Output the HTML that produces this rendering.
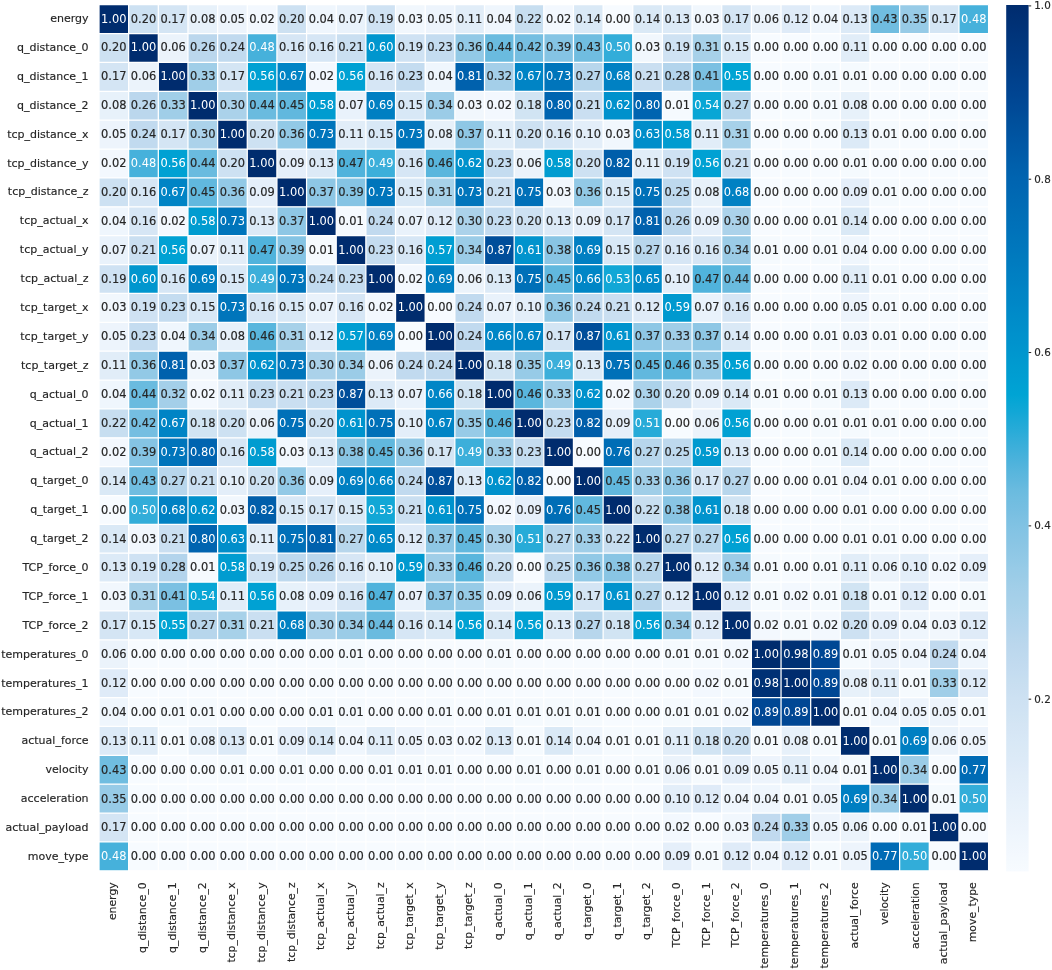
<!DOCTYPE html><html><head><meta charset="utf-8"><title>Correlation heatmap</title>
<style>html,body{margin:0;padding:0;background:#fff}svg{display:block}text{font-family:"DejaVu Sans","Liberation Sans",sans-serif}.a{font-size:11.9px;text-anchor:middle;fill:#262626;stroke:#262626;stroke-width:.18px}.w{fill:#fff;stroke:none}.y{font-size:11.0px;text-anchor:end;fill:#262626;stroke:#262626;stroke-width:.15px}.x{font-size:10.85px;text-anchor:end;fill:#262626;stroke:#262626;stroke-width:.15px}.c{font-size:11.0px;fill:#262626;stroke:#262626;stroke-width:.15px}</style></head><body>
<svg width="1052" height="970" viewBox="0 0 1052 970">
<rect width="1052" height="970" fill="#fff"/>
<g>
<rect x="99.00" y="4.65" width="29.65" height="28.87" fill="#002c6e"/>
<rect x="128.65" y="4.65" width="29.65" height="28.87" fill="#cde1f2"/>
<rect x="158.31" y="4.65" width="29.65" height="28.87" fill="#d4e5f4"/>
<rect x="187.96" y="4.65" width="29.65" height="28.87" fill="#e7f1fa"/>
<rect x="217.61" y="4.65" width="29.65" height="28.87" fill="#edf4fc"/>
<rect x="247.27" y="4.65" width="29.65" height="28.87" fill="#f3f8fe"/>
<rect x="276.92" y="4.65" width="29.65" height="28.87" fill="#cde1f2"/>
<rect x="306.57" y="4.65" width="29.65" height="28.87" fill="#eff6fd"/>
<rect x="336.23" y="4.65" width="29.65" height="28.87" fill="#e9f2fb"/>
<rect x="365.88" y="4.65" width="29.65" height="28.87" fill="#cfe2f3"/>
<rect x="395.53" y="4.65" width="29.65" height="28.87" fill="#f1f7fd"/>
<rect x="425.19" y="4.65" width="29.65" height="28.87" fill="#edf4fc"/>
<rect x="454.84" y="4.65" width="29.65" height="28.87" fill="#e1edf8"/>
<rect x="484.49" y="4.65" width="29.65" height="28.87" fill="#eff6fd"/>
<rect x="514.15" y="4.65" width="29.65" height="28.87" fill="#c7def0"/>
<rect x="543.80" y="4.65" width="29.65" height="28.87" fill="#f3f8fe"/>
<rect x="573.45" y="4.65" width="29.65" height="28.87" fill="#dae9f6"/>
<rect x="603.11" y="4.65" width="29.65" height="28.87" fill="#f7fbff"/>
<rect x="632.76" y="4.65" width="29.65" height="28.87" fill="#dae9f6"/>
<rect x="662.41" y="4.65" width="29.65" height="28.87" fill="#dceaf7"/>
<rect x="692.07" y="4.65" width="29.65" height="28.87" fill="#f1f7fd"/>
<rect x="721.72" y="4.65" width="29.65" height="28.87" fill="#d4e5f4"/>
<rect x="751.37" y="4.65" width="29.65" height="28.87" fill="#ebf3fb"/>
<rect x="781.03" y="4.65" width="29.65" height="28.87" fill="#dfebf8"/>
<rect x="810.68" y="4.65" width="29.65" height="28.87" fill="#eff6fd"/>
<rect x="840.33" y="4.65" width="29.65" height="28.87" fill="#dceaf7"/>
<rect x="869.99" y="4.65" width="29.65" height="28.87" fill="#70bde0"/>
<rect x="899.64" y="4.65" width="29.65" height="28.87" fill="#97cbe7"/>
<rect x="929.29" y="4.65" width="29.65" height="28.87" fill="#d4e5f4"/>
<rect x="958.95" y="4.65" width="29.65" height="28.87" fill="#46b1db"/>
<rect x="99.00" y="33.52" width="29.65" height="28.87" fill="#cde1f2"/>
<rect x="128.65" y="33.52" width="29.65" height="28.87" fill="#002c6e"/>
<rect x="158.31" y="33.52" width="29.65" height="28.87" fill="#ebf3fb"/>
<rect x="187.96" y="33.52" width="29.65" height="28.87" fill="#bbd7ed"/>
<rect x="217.61" y="33.52" width="29.65" height="28.87" fill="#c1daef"/>
<rect x="247.27" y="33.52" width="29.65" height="28.87" fill="#46b1db"/>
<rect x="276.92" y="33.52" width="29.65" height="28.87" fill="#d6e6f5"/>
<rect x="306.57" y="33.52" width="29.65" height="28.87" fill="#d6e6f5"/>
<rect x="336.23" y="33.52" width="29.65" height="28.87" fill="#cadff1"/>
<rect x="365.88" y="33.52" width="29.65" height="28.87" fill="#0096ce"/>
<rect x="395.53" y="33.52" width="29.65" height="28.87" fill="#cfe2f3"/>
<rect x="425.19" y="33.52" width="29.65" height="28.87" fill="#c4dcf0"/>
<rect x="454.84" y="33.52" width="29.65" height="28.87" fill="#92c9e6"/>
<rect x="484.49" y="33.52" width="29.65" height="28.87" fill="#6abbdf"/>
<rect x="514.15" y="33.52" width="29.65" height="28.87" fill="#75bee1"/>
<rect x="543.80" y="33.52" width="29.65" height="28.87" fill="#85c4e4"/>
<rect x="573.45" y="33.52" width="29.65" height="28.87" fill="#70bde0"/>
<rect x="603.11" y="33.52" width="29.65" height="28.87" fill="#32add9"/>
<rect x="632.76" y="33.52" width="29.65" height="28.87" fill="#f1f7fd"/>
<rect x="662.41" y="33.52" width="29.65" height="28.87" fill="#cfe2f3"/>
<rect x="692.07" y="33.52" width="29.65" height="28.87" fill="#a7d1e9"/>
<rect x="721.72" y="33.52" width="29.65" height="28.87" fill="#d8e8f6"/>
<rect x="751.37" y="33.52" width="29.65" height="28.87" fill="#f7fbff"/>
<rect x="781.03" y="33.52" width="29.65" height="28.87" fill="#f7fbff"/>
<rect x="810.68" y="33.52" width="29.65" height="28.87" fill="#f7fbff"/>
<rect x="840.33" y="33.52" width="29.65" height="28.87" fill="#e1edf8"/>
<rect x="869.99" y="33.52" width="29.65" height="28.87" fill="#f7fbff"/>
<rect x="899.64" y="33.52" width="29.65" height="28.87" fill="#f7fbff"/>
<rect x="929.29" y="33.52" width="29.65" height="28.87" fill="#f7fbff"/>
<rect x="958.95" y="33.52" width="29.65" height="28.87" fill="#f7fbff"/>
<rect x="99.00" y="62.40" width="29.65" height="28.87" fill="#d4e5f4"/>
<rect x="128.65" y="62.40" width="29.65" height="28.87" fill="#ebf3fb"/>
<rect x="158.31" y="62.40" width="29.65" height="28.87" fill="#002c6e"/>
<rect x="187.96" y="62.40" width="29.65" height="28.87" fill="#a0cee8"/>
<rect x="217.61" y="62.40" width="29.65" height="28.87" fill="#d4e5f4"/>
<rect x="247.27" y="62.40" width="29.65" height="28.87" fill="#00a1d3"/>
<rect x="276.92" y="62.40" width="29.65" height="28.87" fill="#0084c5"/>
<rect x="306.57" y="62.40" width="29.65" height="28.87" fill="#f3f8fe"/>
<rect x="336.23" y="62.40" width="29.65" height="28.87" fill="#00a1d3"/>
<rect x="365.88" y="62.40" width="29.65" height="28.87" fill="#d6e6f5"/>
<rect x="395.53" y="62.40" width="29.65" height="28.87" fill="#c4dcf0"/>
<rect x="425.19" y="62.40" width="29.65" height="28.87" fill="#eff6fd"/>
<rect x="454.84" y="62.40" width="29.65" height="28.87" fill="#0061ad"/>
<rect x="484.49" y="62.40" width="29.65" height="28.87" fill="#a4cfe9"/>
<rect x="514.15" y="62.40" width="29.65" height="28.87" fill="#0084c5"/>
<rect x="543.80" y="62.40" width="29.65" height="28.87" fill="#0075bb"/>
<rect x="573.45" y="62.40" width="29.65" height="28.87" fill="#b7d6ec"/>
<rect x="603.11" y="62.40" width="29.65" height="28.87" fill="#0081c3"/>
<rect x="632.76" y="62.40" width="29.65" height="28.87" fill="#cadff1"/>
<rect x="662.41" y="62.40" width="29.65" height="28.87" fill="#b3d4ec"/>
<rect x="692.07" y="62.40" width="29.65" height="28.87" fill="#7bc0e2"/>
<rect x="721.72" y="62.40" width="29.65" height="28.87" fill="#00a4d4"/>
<rect x="751.37" y="62.40" width="29.65" height="28.87" fill="#f7fbff"/>
<rect x="781.03" y="62.40" width="29.65" height="28.87" fill="#f7fbff"/>
<rect x="810.68" y="62.40" width="29.65" height="28.87" fill="#f5fafe"/>
<rect x="840.33" y="62.40" width="29.65" height="28.87" fill="#f5fafe"/>
<rect x="869.99" y="62.40" width="29.65" height="28.87" fill="#f7fbff"/>
<rect x="899.64" y="62.40" width="29.65" height="28.87" fill="#f7fbff"/>
<rect x="929.29" y="62.40" width="29.65" height="28.87" fill="#f7fbff"/>
<rect x="958.95" y="62.40" width="29.65" height="28.87" fill="#f7fbff"/>
<rect x="99.00" y="91.27" width="29.65" height="28.87" fill="#e7f1fa"/>
<rect x="128.65" y="91.27" width="29.65" height="28.87" fill="#bbd7ed"/>
<rect x="158.31" y="91.27" width="29.65" height="28.87" fill="#a0cee8"/>
<rect x="187.96" y="91.27" width="29.65" height="28.87" fill="#002c6e"/>
<rect x="217.61" y="91.27" width="29.65" height="28.87" fill="#abd2ea"/>
<rect x="247.27" y="91.27" width="29.65" height="28.87" fill="#6abbdf"/>
<rect x="276.92" y="91.27" width="29.65" height="28.87" fill="#61b8de"/>
<rect x="306.57" y="91.27" width="29.65" height="28.87" fill="#009cd0"/>
<rect x="336.23" y="91.27" width="29.65" height="28.87" fill="#e9f2fb"/>
<rect x="365.88" y="91.27" width="29.65" height="28.87" fill="#007fc2"/>
<rect x="395.53" y="91.27" width="29.65" height="28.87" fill="#d8e8f6"/>
<rect x="425.19" y="91.27" width="29.65" height="28.87" fill="#9bcce7"/>
<rect x="454.84" y="91.27" width="29.65" height="28.87" fill="#f1f7fd"/>
<rect x="484.49" y="91.27" width="29.65" height="28.87" fill="#f3f8fe"/>
<rect x="514.15" y="91.27" width="29.65" height="28.87" fill="#d1e4f3"/>
<rect x="543.80" y="91.27" width="29.65" height="28.87" fill="#0064b0"/>
<rect x="573.45" y="91.27" width="29.65" height="28.87" fill="#cadff1"/>
<rect x="603.11" y="91.27" width="29.65" height="28.87" fill="#0091cc"/>
<rect x="632.76" y="91.27" width="29.65" height="28.87" fill="#0064b0"/>
<rect x="662.41" y="91.27" width="29.65" height="28.87" fill="#f5fafe"/>
<rect x="692.07" y="91.27" width="29.65" height="28.87" fill="#09a6d5"/>
<rect x="721.72" y="91.27" width="29.65" height="28.87" fill="#b7d6ec"/>
<rect x="751.37" y="91.27" width="29.65" height="28.87" fill="#f7fbff"/>
<rect x="781.03" y="91.27" width="29.65" height="28.87" fill="#f7fbff"/>
<rect x="810.68" y="91.27" width="29.65" height="28.87" fill="#f5fafe"/>
<rect x="840.33" y="91.27" width="29.65" height="28.87" fill="#e7f1fa"/>
<rect x="869.99" y="91.27" width="29.65" height="28.87" fill="#f7fbff"/>
<rect x="899.64" y="91.27" width="29.65" height="28.87" fill="#f7fbff"/>
<rect x="929.29" y="91.27" width="29.65" height="28.87" fill="#f7fbff"/>
<rect x="958.95" y="91.27" width="29.65" height="28.87" fill="#f7fbff"/>
<rect x="99.00" y="120.14" width="29.65" height="28.87" fill="#edf4fc"/>
<rect x="128.65" y="120.14" width="29.65" height="28.87" fill="#c1daef"/>
<rect x="158.31" y="120.14" width="29.65" height="28.87" fill="#d4e5f4"/>
<rect x="187.96" y="120.14" width="29.65" height="28.87" fill="#abd2ea"/>
<rect x="217.61" y="120.14" width="29.65" height="28.87" fill="#002c6e"/>
<rect x="247.27" y="120.14" width="29.65" height="28.87" fill="#cde1f2"/>
<rect x="276.92" y="120.14" width="29.65" height="28.87" fill="#92c9e6"/>
<rect x="306.57" y="120.14" width="29.65" height="28.87" fill="#0075bb"/>
<rect x="336.23" y="120.14" width="29.65" height="28.87" fill="#e1edf8"/>
<rect x="365.88" y="120.14" width="29.65" height="28.87" fill="#d8e8f6"/>
<rect x="395.53" y="120.14" width="29.65" height="28.87" fill="#0075bb"/>
<rect x="425.19" y="120.14" width="29.65" height="28.87" fill="#e7f1fa"/>
<rect x="454.84" y="120.14" width="29.65" height="28.87" fill="#8ec7e5"/>
<rect x="484.49" y="120.14" width="29.65" height="28.87" fill="#e1edf8"/>
<rect x="514.15" y="120.14" width="29.65" height="28.87" fill="#cde1f2"/>
<rect x="543.80" y="120.14" width="29.65" height="28.87" fill="#d6e6f5"/>
<rect x="573.45" y="120.14" width="29.65" height="28.87" fill="#e3eef9"/>
<rect x="603.11" y="120.14" width="29.65" height="28.87" fill="#f1f7fd"/>
<rect x="632.76" y="120.14" width="29.65" height="28.87" fill="#008eca"/>
<rect x="662.41" y="120.14" width="29.65" height="28.87" fill="#009cd0"/>
<rect x="692.07" y="120.14" width="29.65" height="28.87" fill="#e1edf8"/>
<rect x="721.72" y="120.14" width="29.65" height="28.87" fill="#a7d1e9"/>
<rect x="751.37" y="120.14" width="29.65" height="28.87" fill="#f7fbff"/>
<rect x="781.03" y="120.14" width="29.65" height="28.87" fill="#f7fbff"/>
<rect x="810.68" y="120.14" width="29.65" height="28.87" fill="#f7fbff"/>
<rect x="840.33" y="120.14" width="29.65" height="28.87" fill="#dceaf7"/>
<rect x="869.99" y="120.14" width="29.65" height="28.87" fill="#f5fafe"/>
<rect x="899.64" y="120.14" width="29.65" height="28.87" fill="#f7fbff"/>
<rect x="929.29" y="120.14" width="29.65" height="28.87" fill="#f7fbff"/>
<rect x="958.95" y="120.14" width="29.65" height="28.87" fill="#f7fbff"/>
<rect x="99.00" y="149.02" width="29.65" height="28.87" fill="#f3f8fe"/>
<rect x="128.65" y="149.02" width="29.65" height="28.87" fill="#46b1db"/>
<rect x="158.31" y="149.02" width="29.65" height="28.87" fill="#00a1d3"/>
<rect x="187.96" y="149.02" width="29.65" height="28.87" fill="#6abbdf"/>
<rect x="217.61" y="149.02" width="29.65" height="28.87" fill="#cde1f2"/>
<rect x="247.27" y="149.02" width="29.65" height="28.87" fill="#002c6e"/>
<rect x="276.92" y="149.02" width="29.65" height="28.87" fill="#e5effa"/>
<rect x="306.57" y="149.02" width="29.65" height="28.87" fill="#dceaf7"/>
<rect x="336.23" y="149.02" width="29.65" height="28.87" fill="#50b3dc"/>
<rect x="365.88" y="149.02" width="29.65" height="28.87" fill="#3cafda"/>
<rect x="395.53" y="149.02" width="29.65" height="28.87" fill="#d6e6f5"/>
<rect x="425.19" y="149.02" width="29.65" height="28.87" fill="#59b6dd"/>
<rect x="454.84" y="149.02" width="29.65" height="28.87" fill="#0091cc"/>
<rect x="484.49" y="149.02" width="29.65" height="28.87" fill="#c4dcf0"/>
<rect x="514.15" y="149.02" width="29.65" height="28.87" fill="#ebf3fb"/>
<rect x="543.80" y="149.02" width="29.65" height="28.87" fill="#009cd0"/>
<rect x="573.45" y="149.02" width="29.65" height="28.87" fill="#cde1f2"/>
<rect x="603.11" y="149.02" width="29.65" height="28.87" fill="#005eaa"/>
<rect x="632.76" y="149.02" width="29.65" height="28.87" fill="#e1edf8"/>
<rect x="662.41" y="149.02" width="29.65" height="28.87" fill="#cfe2f3"/>
<rect x="692.07" y="149.02" width="29.65" height="28.87" fill="#00a1d3"/>
<rect x="721.72" y="149.02" width="29.65" height="28.87" fill="#cadff1"/>
<rect x="751.37" y="149.02" width="29.65" height="28.87" fill="#f7fbff"/>
<rect x="781.03" y="149.02" width="29.65" height="28.87" fill="#f7fbff"/>
<rect x="810.68" y="149.02" width="29.65" height="28.87" fill="#f7fbff"/>
<rect x="840.33" y="149.02" width="29.65" height="28.87" fill="#f5fafe"/>
<rect x="869.99" y="149.02" width="29.65" height="28.87" fill="#f7fbff"/>
<rect x="899.64" y="149.02" width="29.65" height="28.87" fill="#f7fbff"/>
<rect x="929.29" y="149.02" width="29.65" height="28.87" fill="#f7fbff"/>
<rect x="958.95" y="149.02" width="29.65" height="28.87" fill="#f7fbff"/>
<rect x="99.00" y="177.89" width="29.65" height="28.87" fill="#cde1f2"/>
<rect x="128.65" y="177.89" width="29.65" height="28.87" fill="#d6e6f5"/>
<rect x="158.31" y="177.89" width="29.65" height="28.87" fill="#0084c5"/>
<rect x="187.96" y="177.89" width="29.65" height="28.87" fill="#61b8de"/>
<rect x="217.61" y="177.89" width="29.65" height="28.87" fill="#92c9e6"/>
<rect x="247.27" y="177.89" width="29.65" height="28.87" fill="#e5effa"/>
<rect x="276.92" y="177.89" width="29.65" height="28.87" fill="#002c6e"/>
<rect x="306.57" y="177.89" width="29.65" height="28.87" fill="#8ec7e5"/>
<rect x="336.23" y="177.89" width="29.65" height="28.87" fill="#85c4e4"/>
<rect x="365.88" y="177.89" width="29.65" height="28.87" fill="#0075bb"/>
<rect x="395.53" y="177.89" width="29.65" height="28.87" fill="#d8e8f6"/>
<rect x="425.19" y="177.89" width="29.65" height="28.87" fill="#a7d1e9"/>
<rect x="454.84" y="177.89" width="29.65" height="28.87" fill="#0075bb"/>
<rect x="484.49" y="177.89" width="29.65" height="28.87" fill="#cadff1"/>
<rect x="514.15" y="177.89" width="29.65" height="28.87" fill="#0070b8"/>
<rect x="543.80" y="177.89" width="29.65" height="28.87" fill="#f1f7fd"/>
<rect x="573.45" y="177.89" width="29.65" height="28.87" fill="#92c9e6"/>
<rect x="603.11" y="177.89" width="29.65" height="28.87" fill="#d8e8f6"/>
<rect x="632.76" y="177.89" width="29.65" height="28.87" fill="#0070b8"/>
<rect x="662.41" y="177.89" width="29.65" height="28.87" fill="#bed9ee"/>
<rect x="692.07" y="177.89" width="29.65" height="28.87" fill="#e7f1fa"/>
<rect x="721.72" y="177.89" width="29.65" height="28.87" fill="#0081c3"/>
<rect x="751.37" y="177.89" width="29.65" height="28.87" fill="#f7fbff"/>
<rect x="781.03" y="177.89" width="29.65" height="28.87" fill="#f7fbff"/>
<rect x="810.68" y="177.89" width="29.65" height="28.87" fill="#f7fbff"/>
<rect x="840.33" y="177.89" width="29.65" height="28.87" fill="#e5effa"/>
<rect x="869.99" y="177.89" width="29.65" height="28.87" fill="#f5fafe"/>
<rect x="899.64" y="177.89" width="29.65" height="28.87" fill="#f7fbff"/>
<rect x="929.29" y="177.89" width="29.65" height="28.87" fill="#f7fbff"/>
<rect x="958.95" y="177.89" width="29.65" height="28.87" fill="#f7fbff"/>
<rect x="99.00" y="206.76" width="29.65" height="28.87" fill="#eff6fd"/>
<rect x="128.65" y="206.76" width="29.65" height="28.87" fill="#d6e6f5"/>
<rect x="158.31" y="206.76" width="29.65" height="28.87" fill="#f3f8fe"/>
<rect x="187.96" y="206.76" width="29.65" height="28.87" fill="#009cd0"/>
<rect x="217.61" y="206.76" width="29.65" height="28.87" fill="#0075bb"/>
<rect x="247.27" y="206.76" width="29.65" height="28.87" fill="#dceaf7"/>
<rect x="276.92" y="206.76" width="29.65" height="28.87" fill="#8ec7e5"/>
<rect x="306.57" y="206.76" width="29.65" height="28.87" fill="#002c6e"/>
<rect x="336.23" y="206.76" width="29.65" height="28.87" fill="#f5fafe"/>
<rect x="365.88" y="206.76" width="29.65" height="28.87" fill="#c1daef"/>
<rect x="395.53" y="206.76" width="29.65" height="28.87" fill="#e9f2fb"/>
<rect x="425.19" y="206.76" width="29.65" height="28.87" fill="#dfebf8"/>
<rect x="454.84" y="206.76" width="29.65" height="28.87" fill="#abd2ea"/>
<rect x="484.49" y="206.76" width="29.65" height="28.87" fill="#c4dcf0"/>
<rect x="514.15" y="206.76" width="29.65" height="28.87" fill="#cde1f2"/>
<rect x="543.80" y="206.76" width="29.65" height="28.87" fill="#dceaf7"/>
<rect x="573.45" y="206.76" width="29.65" height="28.87" fill="#e5effa"/>
<rect x="603.11" y="206.76" width="29.65" height="28.87" fill="#d4e5f4"/>
<rect x="632.76" y="206.76" width="29.65" height="28.87" fill="#0061ad"/>
<rect x="662.41" y="206.76" width="29.65" height="28.87" fill="#bbd7ed"/>
<rect x="692.07" y="206.76" width="29.65" height="28.87" fill="#e5effa"/>
<rect x="721.72" y="206.76" width="29.65" height="28.87" fill="#abd2ea"/>
<rect x="751.37" y="206.76" width="29.65" height="28.87" fill="#f7fbff"/>
<rect x="781.03" y="206.76" width="29.65" height="28.87" fill="#f7fbff"/>
<rect x="810.68" y="206.76" width="29.65" height="28.87" fill="#f5fafe"/>
<rect x="840.33" y="206.76" width="29.65" height="28.87" fill="#dae9f6"/>
<rect x="869.99" y="206.76" width="29.65" height="28.87" fill="#f7fbff"/>
<rect x="899.64" y="206.76" width="29.65" height="28.87" fill="#f7fbff"/>
<rect x="929.29" y="206.76" width="29.65" height="28.87" fill="#f7fbff"/>
<rect x="958.95" y="206.76" width="29.65" height="28.87" fill="#f7fbff"/>
<rect x="99.00" y="235.64" width="29.65" height="28.87" fill="#e9f2fb"/>
<rect x="128.65" y="235.64" width="29.65" height="28.87" fill="#cadff1"/>
<rect x="158.31" y="235.64" width="29.65" height="28.87" fill="#00a1d3"/>
<rect x="187.96" y="235.64" width="29.65" height="28.87" fill="#e9f2fb"/>
<rect x="217.61" y="235.64" width="29.65" height="28.87" fill="#e1edf8"/>
<rect x="247.27" y="235.64" width="29.65" height="28.87" fill="#50b3dc"/>
<rect x="276.92" y="235.64" width="29.65" height="28.87" fill="#85c4e4"/>
<rect x="306.57" y="235.64" width="29.65" height="28.87" fill="#f5fafe"/>
<rect x="336.23" y="235.64" width="29.65" height="28.87" fill="#002c6e"/>
<rect x="365.88" y="235.64" width="29.65" height="28.87" fill="#c4dcf0"/>
<rect x="395.53" y="235.64" width="29.65" height="28.87" fill="#d6e6f5"/>
<rect x="425.19" y="235.64" width="29.65" height="28.87" fill="#009ed2"/>
<rect x="454.84" y="235.64" width="29.65" height="28.87" fill="#9bcce7"/>
<rect x="484.49" y="235.64" width="29.65" height="28.87" fill="#004e9a"/>
<rect x="514.15" y="235.64" width="29.65" height="28.87" fill="#0093cd"/>
<rect x="543.80" y="235.64" width="29.65" height="28.87" fill="#89c5e4"/>
<rect x="573.45" y="235.64" width="29.65" height="28.87" fill="#007fc2"/>
<rect x="603.11" y="235.64" width="29.65" height="28.87" fill="#d8e8f6"/>
<rect x="632.76" y="235.64" width="29.65" height="28.87" fill="#b7d6ec"/>
<rect x="662.41" y="235.64" width="29.65" height="28.87" fill="#d6e6f5"/>
<rect x="692.07" y="235.64" width="29.65" height="28.87" fill="#d6e6f5"/>
<rect x="721.72" y="235.64" width="29.65" height="28.87" fill="#9bcce7"/>
<rect x="751.37" y="235.64" width="29.65" height="28.87" fill="#f5fafe"/>
<rect x="781.03" y="235.64" width="29.65" height="28.87" fill="#f7fbff"/>
<rect x="810.68" y="235.64" width="29.65" height="28.87" fill="#f5fafe"/>
<rect x="840.33" y="235.64" width="29.65" height="28.87" fill="#eff6fd"/>
<rect x="869.99" y="235.64" width="29.65" height="28.87" fill="#f7fbff"/>
<rect x="899.64" y="235.64" width="29.65" height="28.87" fill="#f7fbff"/>
<rect x="929.29" y="235.64" width="29.65" height="28.87" fill="#f7fbff"/>
<rect x="958.95" y="235.64" width="29.65" height="28.87" fill="#f7fbff"/>
<rect x="99.00" y="264.51" width="29.65" height="28.87" fill="#cfe2f3"/>
<rect x="128.65" y="264.51" width="29.65" height="28.87" fill="#0096ce"/>
<rect x="158.31" y="264.51" width="29.65" height="28.87" fill="#d6e6f5"/>
<rect x="187.96" y="264.51" width="29.65" height="28.87" fill="#007fc2"/>
<rect x="217.61" y="264.51" width="29.65" height="28.87" fill="#d8e8f6"/>
<rect x="247.27" y="264.51" width="29.65" height="28.87" fill="#3cafda"/>
<rect x="276.92" y="264.51" width="29.65" height="28.87" fill="#0075bb"/>
<rect x="306.57" y="264.51" width="29.65" height="28.87" fill="#c1daef"/>
<rect x="336.23" y="264.51" width="29.65" height="28.87" fill="#c4dcf0"/>
<rect x="365.88" y="264.51" width="29.65" height="28.87" fill="#002c6e"/>
<rect x="395.53" y="264.51" width="29.65" height="28.87" fill="#f3f8fe"/>
<rect x="425.19" y="264.51" width="29.65" height="28.87" fill="#007fc2"/>
<rect x="454.84" y="264.51" width="29.65" height="28.87" fill="#ebf3fb"/>
<rect x="484.49" y="264.51" width="29.65" height="28.87" fill="#dceaf7"/>
<rect x="514.15" y="264.51" width="29.65" height="28.87" fill="#0070b8"/>
<rect x="543.80" y="264.51" width="29.65" height="28.87" fill="#61b8de"/>
<rect x="573.45" y="264.51" width="29.65" height="28.87" fill="#0086c6"/>
<rect x="603.11" y="264.51" width="29.65" height="28.87" fill="#12a7d6"/>
<rect x="632.76" y="264.51" width="29.65" height="28.87" fill="#0089c8"/>
<rect x="662.41" y="264.51" width="29.65" height="28.87" fill="#e3eef9"/>
<rect x="692.07" y="264.51" width="29.65" height="28.87" fill="#50b3dc"/>
<rect x="721.72" y="264.51" width="29.65" height="28.87" fill="#6abbdf"/>
<rect x="751.37" y="264.51" width="29.65" height="28.87" fill="#f7fbff"/>
<rect x="781.03" y="264.51" width="29.65" height="28.87" fill="#f7fbff"/>
<rect x="810.68" y="264.51" width="29.65" height="28.87" fill="#f7fbff"/>
<rect x="840.33" y="264.51" width="29.65" height="28.87" fill="#e1edf8"/>
<rect x="869.99" y="264.51" width="29.65" height="28.87" fill="#f5fafe"/>
<rect x="899.64" y="264.51" width="29.65" height="28.87" fill="#f7fbff"/>
<rect x="929.29" y="264.51" width="29.65" height="28.87" fill="#f7fbff"/>
<rect x="958.95" y="264.51" width="29.65" height="28.87" fill="#f7fbff"/>
<rect x="99.00" y="293.38" width="29.65" height="28.87" fill="#f1f7fd"/>
<rect x="128.65" y="293.38" width="29.65" height="28.87" fill="#cfe2f3"/>
<rect x="158.31" y="293.38" width="29.65" height="28.87" fill="#c4dcf0"/>
<rect x="187.96" y="293.38" width="29.65" height="28.87" fill="#d8e8f6"/>
<rect x="217.61" y="293.38" width="29.65" height="28.87" fill="#0075bb"/>
<rect x="247.27" y="293.38" width="29.65" height="28.87" fill="#d6e6f5"/>
<rect x="276.92" y="293.38" width="29.65" height="28.87" fill="#d8e8f6"/>
<rect x="306.57" y="293.38" width="29.65" height="28.87" fill="#e9f2fb"/>
<rect x="336.23" y="293.38" width="29.65" height="28.87" fill="#d6e6f5"/>
<rect x="365.88" y="293.38" width="29.65" height="28.87" fill="#f3f8fe"/>
<rect x="395.53" y="293.38" width="29.65" height="28.87" fill="#002c6e"/>
<rect x="425.19" y="293.38" width="29.65" height="28.87" fill="#f7fbff"/>
<rect x="454.84" y="293.38" width="29.65" height="28.87" fill="#c1daef"/>
<rect x="484.49" y="293.38" width="29.65" height="28.87" fill="#e9f2fb"/>
<rect x="514.15" y="293.38" width="29.65" height="28.87" fill="#e3eef9"/>
<rect x="543.80" y="293.38" width="29.65" height="28.87" fill="#92c9e6"/>
<rect x="573.45" y="293.38" width="29.65" height="28.87" fill="#c1daef"/>
<rect x="603.11" y="293.38" width="29.65" height="28.87" fill="#cadff1"/>
<rect x="632.76" y="293.38" width="29.65" height="28.87" fill="#dfebf8"/>
<rect x="662.41" y="293.38" width="29.65" height="28.87" fill="#0099cf"/>
<rect x="692.07" y="293.38" width="29.65" height="28.87" fill="#e9f2fb"/>
<rect x="721.72" y="293.38" width="29.65" height="28.87" fill="#d6e6f5"/>
<rect x="751.37" y="293.38" width="29.65" height="28.87" fill="#f7fbff"/>
<rect x="781.03" y="293.38" width="29.65" height="28.87" fill="#f7fbff"/>
<rect x="810.68" y="293.38" width="29.65" height="28.87" fill="#f7fbff"/>
<rect x="840.33" y="293.38" width="29.65" height="28.87" fill="#edf4fc"/>
<rect x="869.99" y="293.38" width="29.65" height="28.87" fill="#f5fafe"/>
<rect x="899.64" y="293.38" width="29.65" height="28.87" fill="#f7fbff"/>
<rect x="929.29" y="293.38" width="29.65" height="28.87" fill="#f7fbff"/>
<rect x="958.95" y="293.38" width="29.65" height="28.87" fill="#f7fbff"/>
<rect x="99.00" y="322.26" width="29.65" height="28.87" fill="#edf4fc"/>
<rect x="128.65" y="322.26" width="29.65" height="28.87" fill="#c4dcf0"/>
<rect x="158.31" y="322.26" width="29.65" height="28.87" fill="#eff6fd"/>
<rect x="187.96" y="322.26" width="29.65" height="28.87" fill="#9bcce7"/>
<rect x="217.61" y="322.26" width="29.65" height="28.87" fill="#e7f1fa"/>
<rect x="247.27" y="322.26" width="29.65" height="28.87" fill="#59b6dd"/>
<rect x="276.92" y="322.26" width="29.65" height="28.87" fill="#a7d1e9"/>
<rect x="306.57" y="322.26" width="29.65" height="28.87" fill="#dfebf8"/>
<rect x="336.23" y="322.26" width="29.65" height="28.87" fill="#009ed2"/>
<rect x="365.88" y="322.26" width="29.65" height="28.87" fill="#007fc2"/>
<rect x="395.53" y="322.26" width="29.65" height="28.87" fill="#f7fbff"/>
<rect x="425.19" y="322.26" width="29.65" height="28.87" fill="#002c6e"/>
<rect x="454.84" y="322.26" width="29.65" height="28.87" fill="#c1daef"/>
<rect x="484.49" y="322.26" width="29.65" height="28.87" fill="#0086c6"/>
<rect x="514.15" y="322.26" width="29.65" height="28.87" fill="#0084c5"/>
<rect x="543.80" y="322.26" width="29.65" height="28.87" fill="#d4e5f4"/>
<rect x="573.45" y="322.26" width="29.65" height="28.87" fill="#004e9a"/>
<rect x="603.11" y="322.26" width="29.65" height="28.87" fill="#0093cd"/>
<rect x="632.76" y="322.26" width="29.65" height="28.87" fill="#8ec7e5"/>
<rect x="662.41" y="322.26" width="29.65" height="28.87" fill="#a0cee8"/>
<rect x="692.07" y="322.26" width="29.65" height="28.87" fill="#8ec7e5"/>
<rect x="721.72" y="322.26" width="29.65" height="28.87" fill="#dae9f6"/>
<rect x="751.37" y="322.26" width="29.65" height="28.87" fill="#f7fbff"/>
<rect x="781.03" y="322.26" width="29.65" height="28.87" fill="#f7fbff"/>
<rect x="810.68" y="322.26" width="29.65" height="28.87" fill="#f5fafe"/>
<rect x="840.33" y="322.26" width="29.65" height="28.87" fill="#f1f7fd"/>
<rect x="869.99" y="322.26" width="29.65" height="28.87" fill="#f5fafe"/>
<rect x="899.64" y="322.26" width="29.65" height="28.87" fill="#f7fbff"/>
<rect x="929.29" y="322.26" width="29.65" height="28.87" fill="#f7fbff"/>
<rect x="958.95" y="322.26" width="29.65" height="28.87" fill="#f7fbff"/>
<rect x="99.00" y="351.13" width="29.65" height="28.87" fill="#e1edf8"/>
<rect x="128.65" y="351.13" width="29.65" height="28.87" fill="#92c9e6"/>
<rect x="158.31" y="351.13" width="29.65" height="28.87" fill="#0061ad"/>
<rect x="187.96" y="351.13" width="29.65" height="28.87" fill="#f1f7fd"/>
<rect x="217.61" y="351.13" width="29.65" height="28.87" fill="#8ec7e5"/>
<rect x="247.27" y="351.13" width="29.65" height="28.87" fill="#0091cc"/>
<rect x="276.92" y="351.13" width="29.65" height="28.87" fill="#0075bb"/>
<rect x="306.57" y="351.13" width="29.65" height="28.87" fill="#abd2ea"/>
<rect x="336.23" y="351.13" width="29.65" height="28.87" fill="#9bcce7"/>
<rect x="365.88" y="351.13" width="29.65" height="28.87" fill="#ebf3fb"/>
<rect x="395.53" y="351.13" width="29.65" height="28.87" fill="#c1daef"/>
<rect x="425.19" y="351.13" width="29.65" height="28.87" fill="#c1daef"/>
<rect x="454.84" y="351.13" width="29.65" height="28.87" fill="#002c6e"/>
<rect x="484.49" y="351.13" width="29.65" height="28.87" fill="#d1e4f3"/>
<rect x="514.15" y="351.13" width="29.65" height="28.87" fill="#97cbe7"/>
<rect x="543.80" y="351.13" width="29.65" height="28.87" fill="#3cafda"/>
<rect x="573.45" y="351.13" width="29.65" height="28.87" fill="#dceaf7"/>
<rect x="603.11" y="351.13" width="29.65" height="28.87" fill="#0070b8"/>
<rect x="632.76" y="351.13" width="29.65" height="28.87" fill="#61b8de"/>
<rect x="662.41" y="351.13" width="29.65" height="28.87" fill="#59b6dd"/>
<rect x="692.07" y="351.13" width="29.65" height="28.87" fill="#97cbe7"/>
<rect x="721.72" y="351.13" width="29.65" height="28.87" fill="#00a1d3"/>
<rect x="751.37" y="351.13" width="29.65" height="28.87" fill="#f7fbff"/>
<rect x="781.03" y="351.13" width="29.65" height="28.87" fill="#f7fbff"/>
<rect x="810.68" y="351.13" width="29.65" height="28.87" fill="#f7fbff"/>
<rect x="840.33" y="351.13" width="29.65" height="28.87" fill="#f3f8fe"/>
<rect x="869.99" y="351.13" width="29.65" height="28.87" fill="#f7fbff"/>
<rect x="899.64" y="351.13" width="29.65" height="28.87" fill="#f7fbff"/>
<rect x="929.29" y="351.13" width="29.65" height="28.87" fill="#f7fbff"/>
<rect x="958.95" y="351.13" width="29.65" height="28.87" fill="#f7fbff"/>
<rect x="99.00" y="380.00" width="29.65" height="28.87" fill="#eff6fd"/>
<rect x="128.65" y="380.00" width="29.65" height="28.87" fill="#6abbdf"/>
<rect x="158.31" y="380.00" width="29.65" height="28.87" fill="#a4cfe9"/>
<rect x="187.96" y="380.00" width="29.65" height="28.87" fill="#f3f8fe"/>
<rect x="217.61" y="380.00" width="29.65" height="28.87" fill="#e1edf8"/>
<rect x="247.27" y="380.00" width="29.65" height="28.87" fill="#c4dcf0"/>
<rect x="276.92" y="380.00" width="29.65" height="28.87" fill="#cadff1"/>
<rect x="306.57" y="380.00" width="29.65" height="28.87" fill="#c4dcf0"/>
<rect x="336.23" y="380.00" width="29.65" height="28.87" fill="#004e9a"/>
<rect x="365.88" y="380.00" width="29.65" height="28.87" fill="#dceaf7"/>
<rect x="395.53" y="380.00" width="29.65" height="28.87" fill="#e9f2fb"/>
<rect x="425.19" y="380.00" width="29.65" height="28.87" fill="#0086c6"/>
<rect x="454.84" y="380.00" width="29.65" height="28.87" fill="#d1e4f3"/>
<rect x="484.49" y="380.00" width="29.65" height="28.87" fill="#002c6e"/>
<rect x="514.15" y="380.00" width="29.65" height="28.87" fill="#59b6dd"/>
<rect x="543.80" y="380.00" width="29.65" height="28.87" fill="#a0cee8"/>
<rect x="573.45" y="380.00" width="29.65" height="28.87" fill="#0091cc"/>
<rect x="603.11" y="380.00" width="29.65" height="28.87" fill="#f3f8fe"/>
<rect x="632.76" y="380.00" width="29.65" height="28.87" fill="#abd2ea"/>
<rect x="662.41" y="380.00" width="29.65" height="28.87" fill="#cde1f2"/>
<rect x="692.07" y="380.00" width="29.65" height="28.87" fill="#e5effa"/>
<rect x="721.72" y="380.00" width="29.65" height="28.87" fill="#dae9f6"/>
<rect x="751.37" y="380.00" width="29.65" height="28.87" fill="#f5fafe"/>
<rect x="781.03" y="380.00" width="29.65" height="28.87" fill="#f7fbff"/>
<rect x="810.68" y="380.00" width="29.65" height="28.87" fill="#f5fafe"/>
<rect x="840.33" y="380.00" width="29.65" height="28.87" fill="#dceaf7"/>
<rect x="869.99" y="380.00" width="29.65" height="28.87" fill="#f7fbff"/>
<rect x="899.64" y="380.00" width="29.65" height="28.87" fill="#f7fbff"/>
<rect x="929.29" y="380.00" width="29.65" height="28.87" fill="#f7fbff"/>
<rect x="958.95" y="380.00" width="29.65" height="28.87" fill="#f7fbff"/>
<rect x="99.00" y="408.88" width="29.65" height="28.87" fill="#c7def0"/>
<rect x="128.65" y="408.88" width="29.65" height="28.87" fill="#75bee1"/>
<rect x="158.31" y="408.88" width="29.65" height="28.87" fill="#0084c5"/>
<rect x="187.96" y="408.88" width="29.65" height="28.87" fill="#d1e4f3"/>
<rect x="217.61" y="408.88" width="29.65" height="28.87" fill="#cde1f2"/>
<rect x="247.27" y="408.88" width="29.65" height="28.87" fill="#ebf3fb"/>
<rect x="276.92" y="408.88" width="29.65" height="28.87" fill="#0070b8"/>
<rect x="306.57" y="408.88" width="29.65" height="28.87" fill="#cde1f2"/>
<rect x="336.23" y="408.88" width="29.65" height="28.87" fill="#0093cd"/>
<rect x="365.88" y="408.88" width="29.65" height="28.87" fill="#0070b8"/>
<rect x="395.53" y="408.88" width="29.65" height="28.87" fill="#e3eef9"/>
<rect x="425.19" y="408.88" width="29.65" height="28.87" fill="#0084c5"/>
<rect x="454.84" y="408.88" width="29.65" height="28.87" fill="#97cbe7"/>
<rect x="484.49" y="408.88" width="29.65" height="28.87" fill="#59b6dd"/>
<rect x="514.15" y="408.88" width="29.65" height="28.87" fill="#002c6e"/>
<rect x="543.80" y="408.88" width="29.65" height="28.87" fill="#c4dcf0"/>
<rect x="573.45" y="408.88" width="29.65" height="28.87" fill="#005eaa"/>
<rect x="603.11" y="408.88" width="29.65" height="28.87" fill="#e5effa"/>
<rect x="632.76" y="408.88" width="29.65" height="28.87" fill="#27abd8"/>
<rect x="662.41" y="408.88" width="29.65" height="28.87" fill="#f7fbff"/>
<rect x="692.07" y="408.88" width="29.65" height="28.87" fill="#ebf3fb"/>
<rect x="721.72" y="408.88" width="29.65" height="28.87" fill="#00a1d3"/>
<rect x="751.37" y="408.88" width="29.65" height="28.87" fill="#f7fbff"/>
<rect x="781.03" y="408.88" width="29.65" height="28.87" fill="#f7fbff"/>
<rect x="810.68" y="408.88" width="29.65" height="28.87" fill="#f5fafe"/>
<rect x="840.33" y="408.88" width="29.65" height="28.87" fill="#f5fafe"/>
<rect x="869.99" y="408.88" width="29.65" height="28.87" fill="#f5fafe"/>
<rect x="899.64" y="408.88" width="29.65" height="28.87" fill="#f7fbff"/>
<rect x="929.29" y="408.88" width="29.65" height="28.87" fill="#f7fbff"/>
<rect x="958.95" y="408.88" width="29.65" height="28.87" fill="#f7fbff"/>
<rect x="99.00" y="437.75" width="29.65" height="28.87" fill="#f3f8fe"/>
<rect x="128.65" y="437.75" width="29.65" height="28.87" fill="#85c4e4"/>
<rect x="158.31" y="437.75" width="29.65" height="28.87" fill="#0075bb"/>
<rect x="187.96" y="437.75" width="29.65" height="28.87" fill="#0064b0"/>
<rect x="217.61" y="437.75" width="29.65" height="28.87" fill="#d6e6f5"/>
<rect x="247.27" y="437.75" width="29.65" height="28.87" fill="#009cd0"/>
<rect x="276.92" y="437.75" width="29.65" height="28.87" fill="#f1f7fd"/>
<rect x="306.57" y="437.75" width="29.65" height="28.87" fill="#dceaf7"/>
<rect x="336.23" y="437.75" width="29.65" height="28.87" fill="#89c5e4"/>
<rect x="365.88" y="437.75" width="29.65" height="28.87" fill="#61b8de"/>
<rect x="395.53" y="437.75" width="29.65" height="28.87" fill="#92c9e6"/>
<rect x="425.19" y="437.75" width="29.65" height="28.87" fill="#d4e5f4"/>
<rect x="454.84" y="437.75" width="29.65" height="28.87" fill="#3cafda"/>
<rect x="484.49" y="437.75" width="29.65" height="28.87" fill="#a0cee8"/>
<rect x="514.15" y="437.75" width="29.65" height="28.87" fill="#c4dcf0"/>
<rect x="543.80" y="437.75" width="29.65" height="28.87" fill="#002c6e"/>
<rect x="573.45" y="437.75" width="29.65" height="28.87" fill="#f7fbff"/>
<rect x="603.11" y="437.75" width="29.65" height="28.87" fill="#006eb6"/>
<rect x="632.76" y="437.75" width="29.65" height="28.87" fill="#b7d6ec"/>
<rect x="662.41" y="437.75" width="29.65" height="28.87" fill="#bed9ee"/>
<rect x="692.07" y="437.75" width="29.65" height="28.87" fill="#0099cf"/>
<rect x="721.72" y="437.75" width="29.65" height="28.87" fill="#dceaf7"/>
<rect x="751.37" y="437.75" width="29.65" height="28.87" fill="#f7fbff"/>
<rect x="781.03" y="437.75" width="29.65" height="28.87" fill="#f7fbff"/>
<rect x="810.68" y="437.75" width="29.65" height="28.87" fill="#f5fafe"/>
<rect x="840.33" y="437.75" width="29.65" height="28.87" fill="#dae9f6"/>
<rect x="869.99" y="437.75" width="29.65" height="28.87" fill="#f7fbff"/>
<rect x="899.64" y="437.75" width="29.65" height="28.87" fill="#f7fbff"/>
<rect x="929.29" y="437.75" width="29.65" height="28.87" fill="#f7fbff"/>
<rect x="958.95" y="437.75" width="29.65" height="28.87" fill="#f7fbff"/>
<rect x="99.00" y="466.62" width="29.65" height="28.87" fill="#dae9f6"/>
<rect x="128.65" y="466.62" width="29.65" height="28.87" fill="#70bde0"/>
<rect x="158.31" y="466.62" width="29.65" height="28.87" fill="#b7d6ec"/>
<rect x="187.96" y="466.62" width="29.65" height="28.87" fill="#cadff1"/>
<rect x="217.61" y="466.62" width="29.65" height="28.87" fill="#e3eef9"/>
<rect x="247.27" y="466.62" width="29.65" height="28.87" fill="#cde1f2"/>
<rect x="276.92" y="466.62" width="29.65" height="28.87" fill="#92c9e6"/>
<rect x="306.57" y="466.62" width="29.65" height="28.87" fill="#e5effa"/>
<rect x="336.23" y="466.62" width="29.65" height="28.87" fill="#007fc2"/>
<rect x="365.88" y="466.62" width="29.65" height="28.87" fill="#0086c6"/>
<rect x="395.53" y="466.62" width="29.65" height="28.87" fill="#c1daef"/>
<rect x="425.19" y="466.62" width="29.65" height="28.87" fill="#004e9a"/>
<rect x="454.84" y="466.62" width="29.65" height="28.87" fill="#dceaf7"/>
<rect x="484.49" y="466.62" width="29.65" height="28.87" fill="#0091cc"/>
<rect x="514.15" y="466.62" width="29.65" height="28.87" fill="#005eaa"/>
<rect x="543.80" y="466.62" width="29.65" height="28.87" fill="#f7fbff"/>
<rect x="573.45" y="466.62" width="29.65" height="28.87" fill="#002c6e"/>
<rect x="603.11" y="466.62" width="29.65" height="28.87" fill="#61b8de"/>
<rect x="632.76" y="466.62" width="29.65" height="28.87" fill="#a0cee8"/>
<rect x="662.41" y="466.62" width="29.65" height="28.87" fill="#92c9e6"/>
<rect x="692.07" y="466.62" width="29.65" height="28.87" fill="#d4e5f4"/>
<rect x="721.72" y="466.62" width="29.65" height="28.87" fill="#b7d6ec"/>
<rect x="751.37" y="466.62" width="29.65" height="28.87" fill="#f7fbff"/>
<rect x="781.03" y="466.62" width="29.65" height="28.87" fill="#f7fbff"/>
<rect x="810.68" y="466.62" width="29.65" height="28.87" fill="#f5fafe"/>
<rect x="840.33" y="466.62" width="29.65" height="28.87" fill="#eff6fd"/>
<rect x="869.99" y="466.62" width="29.65" height="28.87" fill="#f5fafe"/>
<rect x="899.64" y="466.62" width="29.65" height="28.87" fill="#f7fbff"/>
<rect x="929.29" y="466.62" width="29.65" height="28.87" fill="#f7fbff"/>
<rect x="958.95" y="466.62" width="29.65" height="28.87" fill="#f7fbff"/>
<rect x="99.00" y="495.50" width="29.65" height="28.87" fill="#f7fbff"/>
<rect x="128.65" y="495.50" width="29.65" height="28.87" fill="#32add9"/>
<rect x="158.31" y="495.50" width="29.65" height="28.87" fill="#0081c3"/>
<rect x="187.96" y="495.50" width="29.65" height="28.87" fill="#0091cc"/>
<rect x="217.61" y="495.50" width="29.65" height="28.87" fill="#f1f7fd"/>
<rect x="247.27" y="495.50" width="29.65" height="28.87" fill="#005eaa"/>
<rect x="276.92" y="495.50" width="29.65" height="28.87" fill="#d8e8f6"/>
<rect x="306.57" y="495.50" width="29.65" height="28.87" fill="#d4e5f4"/>
<rect x="336.23" y="495.50" width="29.65" height="28.87" fill="#d8e8f6"/>
<rect x="365.88" y="495.50" width="29.65" height="28.87" fill="#12a7d6"/>
<rect x="395.53" y="495.50" width="29.65" height="28.87" fill="#cadff1"/>
<rect x="425.19" y="495.50" width="29.65" height="28.87" fill="#0093cd"/>
<rect x="454.84" y="495.50" width="29.65" height="28.87" fill="#0070b8"/>
<rect x="484.49" y="495.50" width="29.65" height="28.87" fill="#f3f8fe"/>
<rect x="514.15" y="495.50" width="29.65" height="28.87" fill="#e5effa"/>
<rect x="543.80" y="495.50" width="29.65" height="28.87" fill="#006eb6"/>
<rect x="573.45" y="495.50" width="29.65" height="28.87" fill="#61b8de"/>
<rect x="603.11" y="495.50" width="29.65" height="28.87" fill="#002c6e"/>
<rect x="632.76" y="495.50" width="29.65" height="28.87" fill="#c7def0"/>
<rect x="662.41" y="495.50" width="29.65" height="28.87" fill="#89c5e4"/>
<rect x="692.07" y="495.50" width="29.65" height="28.87" fill="#0093cd"/>
<rect x="721.72" y="495.50" width="29.65" height="28.87" fill="#d1e4f3"/>
<rect x="751.37" y="495.50" width="29.65" height="28.87" fill="#f7fbff"/>
<rect x="781.03" y="495.50" width="29.65" height="28.87" fill="#f7fbff"/>
<rect x="810.68" y="495.50" width="29.65" height="28.87" fill="#f7fbff"/>
<rect x="840.33" y="495.50" width="29.65" height="28.87" fill="#f5fafe"/>
<rect x="869.99" y="495.50" width="29.65" height="28.87" fill="#f7fbff"/>
<rect x="899.64" y="495.50" width="29.65" height="28.87" fill="#f7fbff"/>
<rect x="929.29" y="495.50" width="29.65" height="28.87" fill="#f7fbff"/>
<rect x="958.95" y="495.50" width="29.65" height="28.87" fill="#f7fbff"/>
<rect x="99.00" y="524.37" width="29.65" height="28.87" fill="#dae9f6"/>
<rect x="128.65" y="524.37" width="29.65" height="28.87" fill="#f1f7fd"/>
<rect x="158.31" y="524.37" width="29.65" height="28.87" fill="#cadff1"/>
<rect x="187.96" y="524.37" width="29.65" height="28.87" fill="#0064b0"/>
<rect x="217.61" y="524.37" width="29.65" height="28.87" fill="#008eca"/>
<rect x="247.27" y="524.37" width="29.65" height="28.87" fill="#e1edf8"/>
<rect x="276.92" y="524.37" width="29.65" height="28.87" fill="#0070b8"/>
<rect x="306.57" y="524.37" width="29.65" height="28.87" fill="#0061ad"/>
<rect x="336.23" y="524.37" width="29.65" height="28.87" fill="#b7d6ec"/>
<rect x="365.88" y="524.37" width="29.65" height="28.87" fill="#0089c8"/>
<rect x="395.53" y="524.37" width="29.65" height="28.87" fill="#dfebf8"/>
<rect x="425.19" y="524.37" width="29.65" height="28.87" fill="#8ec7e5"/>
<rect x="454.84" y="524.37" width="29.65" height="28.87" fill="#61b8de"/>
<rect x="484.49" y="524.37" width="29.65" height="28.87" fill="#abd2ea"/>
<rect x="514.15" y="524.37" width="29.65" height="28.87" fill="#27abd8"/>
<rect x="543.80" y="524.37" width="29.65" height="28.87" fill="#b7d6ec"/>
<rect x="573.45" y="524.37" width="29.65" height="28.87" fill="#a0cee8"/>
<rect x="603.11" y="524.37" width="29.65" height="28.87" fill="#c7def0"/>
<rect x="632.76" y="524.37" width="29.65" height="28.87" fill="#002c6e"/>
<rect x="662.41" y="524.37" width="29.65" height="28.87" fill="#b7d6ec"/>
<rect x="692.07" y="524.37" width="29.65" height="28.87" fill="#b7d6ec"/>
<rect x="721.72" y="524.37" width="29.65" height="28.87" fill="#00a1d3"/>
<rect x="751.37" y="524.37" width="29.65" height="28.87" fill="#f7fbff"/>
<rect x="781.03" y="524.37" width="29.65" height="28.87" fill="#f7fbff"/>
<rect x="810.68" y="524.37" width="29.65" height="28.87" fill="#f7fbff"/>
<rect x="840.33" y="524.37" width="29.65" height="28.87" fill="#f5fafe"/>
<rect x="869.99" y="524.37" width="29.65" height="28.87" fill="#f5fafe"/>
<rect x="899.64" y="524.37" width="29.65" height="28.87" fill="#f7fbff"/>
<rect x="929.29" y="524.37" width="29.65" height="28.87" fill="#f7fbff"/>
<rect x="958.95" y="524.37" width="29.65" height="28.87" fill="#f7fbff"/>
<rect x="99.00" y="553.24" width="29.65" height="28.87" fill="#dceaf7"/>
<rect x="128.65" y="553.24" width="29.65" height="28.87" fill="#cfe2f3"/>
<rect x="158.31" y="553.24" width="29.65" height="28.87" fill="#b3d4ec"/>
<rect x="187.96" y="553.24" width="29.65" height="28.87" fill="#f5fafe"/>
<rect x="217.61" y="553.24" width="29.65" height="28.87" fill="#009cd0"/>
<rect x="247.27" y="553.24" width="29.65" height="28.87" fill="#cfe2f3"/>
<rect x="276.92" y="553.24" width="29.65" height="28.87" fill="#bed9ee"/>
<rect x="306.57" y="553.24" width="29.65" height="28.87" fill="#bbd7ed"/>
<rect x="336.23" y="553.24" width="29.65" height="28.87" fill="#d6e6f5"/>
<rect x="365.88" y="553.24" width="29.65" height="28.87" fill="#e3eef9"/>
<rect x="395.53" y="553.24" width="29.65" height="28.87" fill="#0099cf"/>
<rect x="425.19" y="553.24" width="29.65" height="28.87" fill="#a0cee8"/>
<rect x="454.84" y="553.24" width="29.65" height="28.87" fill="#59b6dd"/>
<rect x="484.49" y="553.24" width="29.65" height="28.87" fill="#cde1f2"/>
<rect x="514.15" y="553.24" width="29.65" height="28.87" fill="#f7fbff"/>
<rect x="543.80" y="553.24" width="29.65" height="28.87" fill="#bed9ee"/>
<rect x="573.45" y="553.24" width="29.65" height="28.87" fill="#92c9e6"/>
<rect x="603.11" y="553.24" width="29.65" height="28.87" fill="#89c5e4"/>
<rect x="632.76" y="553.24" width="29.65" height="28.87" fill="#b7d6ec"/>
<rect x="662.41" y="553.24" width="29.65" height="28.87" fill="#002c6e"/>
<rect x="692.07" y="553.24" width="29.65" height="28.87" fill="#dfebf8"/>
<rect x="721.72" y="553.24" width="29.65" height="28.87" fill="#9bcce7"/>
<rect x="751.37" y="553.24" width="29.65" height="28.87" fill="#f5fafe"/>
<rect x="781.03" y="553.24" width="29.65" height="28.87" fill="#f7fbff"/>
<rect x="810.68" y="553.24" width="29.65" height="28.87" fill="#f5fafe"/>
<rect x="840.33" y="553.24" width="29.65" height="28.87" fill="#e1edf8"/>
<rect x="869.99" y="553.24" width="29.65" height="28.87" fill="#ebf3fb"/>
<rect x="899.64" y="553.24" width="29.65" height="28.87" fill="#e3eef9"/>
<rect x="929.29" y="553.24" width="29.65" height="28.87" fill="#f3f8fe"/>
<rect x="958.95" y="553.24" width="29.65" height="28.87" fill="#e5effa"/>
<rect x="99.00" y="582.12" width="29.65" height="28.87" fill="#f1f7fd"/>
<rect x="128.65" y="582.12" width="29.65" height="28.87" fill="#a7d1e9"/>
<rect x="158.31" y="582.12" width="29.65" height="28.87" fill="#7bc0e2"/>
<rect x="187.96" y="582.12" width="29.65" height="28.87" fill="#09a6d5"/>
<rect x="217.61" y="582.12" width="29.65" height="28.87" fill="#e1edf8"/>
<rect x="247.27" y="582.12" width="29.65" height="28.87" fill="#00a1d3"/>
<rect x="276.92" y="582.12" width="29.65" height="28.87" fill="#e7f1fa"/>
<rect x="306.57" y="582.12" width="29.65" height="28.87" fill="#e5effa"/>
<rect x="336.23" y="582.12" width="29.65" height="28.87" fill="#d6e6f5"/>
<rect x="365.88" y="582.12" width="29.65" height="28.87" fill="#50b3dc"/>
<rect x="395.53" y="582.12" width="29.65" height="28.87" fill="#e9f2fb"/>
<rect x="425.19" y="582.12" width="29.65" height="28.87" fill="#8ec7e5"/>
<rect x="454.84" y="582.12" width="29.65" height="28.87" fill="#97cbe7"/>
<rect x="484.49" y="582.12" width="29.65" height="28.87" fill="#e5effa"/>
<rect x="514.15" y="582.12" width="29.65" height="28.87" fill="#ebf3fb"/>
<rect x="543.80" y="582.12" width="29.65" height="28.87" fill="#0099cf"/>
<rect x="573.45" y="582.12" width="29.65" height="28.87" fill="#d4e5f4"/>
<rect x="603.11" y="582.12" width="29.65" height="28.87" fill="#0093cd"/>
<rect x="632.76" y="582.12" width="29.65" height="28.87" fill="#b7d6ec"/>
<rect x="662.41" y="582.12" width="29.65" height="28.87" fill="#dfebf8"/>
<rect x="692.07" y="582.12" width="29.65" height="28.87" fill="#002c6e"/>
<rect x="721.72" y="582.12" width="29.65" height="28.87" fill="#dfebf8"/>
<rect x="751.37" y="582.12" width="29.65" height="28.87" fill="#f5fafe"/>
<rect x="781.03" y="582.12" width="29.65" height="28.87" fill="#f3f8fe"/>
<rect x="810.68" y="582.12" width="29.65" height="28.87" fill="#f5fafe"/>
<rect x="840.33" y="582.12" width="29.65" height="28.87" fill="#d1e4f3"/>
<rect x="869.99" y="582.12" width="29.65" height="28.87" fill="#f5fafe"/>
<rect x="899.64" y="582.12" width="29.65" height="28.87" fill="#dfebf8"/>
<rect x="929.29" y="582.12" width="29.65" height="28.87" fill="#f7fbff"/>
<rect x="958.95" y="582.12" width="29.65" height="28.87" fill="#f5fafe"/>
<rect x="99.00" y="610.99" width="29.65" height="28.87" fill="#d4e5f4"/>
<rect x="128.65" y="610.99" width="29.65" height="28.87" fill="#d8e8f6"/>
<rect x="158.31" y="610.99" width="29.65" height="28.87" fill="#00a4d4"/>
<rect x="187.96" y="610.99" width="29.65" height="28.87" fill="#b7d6ec"/>
<rect x="217.61" y="610.99" width="29.65" height="28.87" fill="#a7d1e9"/>
<rect x="247.27" y="610.99" width="29.65" height="28.87" fill="#cadff1"/>
<rect x="276.92" y="610.99" width="29.65" height="28.87" fill="#0081c3"/>
<rect x="306.57" y="610.99" width="29.65" height="28.87" fill="#abd2ea"/>
<rect x="336.23" y="610.99" width="29.65" height="28.87" fill="#9bcce7"/>
<rect x="365.88" y="610.99" width="29.65" height="28.87" fill="#6abbdf"/>
<rect x="395.53" y="610.99" width="29.65" height="28.87" fill="#d6e6f5"/>
<rect x="425.19" y="610.99" width="29.65" height="28.87" fill="#dae9f6"/>
<rect x="454.84" y="610.99" width="29.65" height="28.87" fill="#00a1d3"/>
<rect x="484.49" y="610.99" width="29.65" height="28.87" fill="#dae9f6"/>
<rect x="514.15" y="610.99" width="29.65" height="28.87" fill="#00a1d3"/>
<rect x="543.80" y="610.99" width="29.65" height="28.87" fill="#dceaf7"/>
<rect x="573.45" y="610.99" width="29.65" height="28.87" fill="#b7d6ec"/>
<rect x="603.11" y="610.99" width="29.65" height="28.87" fill="#d1e4f3"/>
<rect x="632.76" y="610.99" width="29.65" height="28.87" fill="#00a1d3"/>
<rect x="662.41" y="610.99" width="29.65" height="28.87" fill="#9bcce7"/>
<rect x="692.07" y="610.99" width="29.65" height="28.87" fill="#dfebf8"/>
<rect x="721.72" y="610.99" width="29.65" height="28.87" fill="#002c6e"/>
<rect x="751.37" y="610.99" width="29.65" height="28.87" fill="#f3f8fe"/>
<rect x="781.03" y="610.99" width="29.65" height="28.87" fill="#f5fafe"/>
<rect x="810.68" y="610.99" width="29.65" height="28.87" fill="#f3f8fe"/>
<rect x="840.33" y="610.99" width="29.65" height="28.87" fill="#cde1f2"/>
<rect x="869.99" y="610.99" width="29.65" height="28.87" fill="#e5effa"/>
<rect x="899.64" y="610.99" width="29.65" height="28.87" fill="#eff6fd"/>
<rect x="929.29" y="610.99" width="29.65" height="28.87" fill="#f1f7fd"/>
<rect x="958.95" y="610.99" width="29.65" height="28.87" fill="#dfebf8"/>
<rect x="99.00" y="639.86" width="29.65" height="28.87" fill="#ebf3fb"/>
<rect x="128.65" y="639.86" width="29.65" height="28.87" fill="#f7fbff"/>
<rect x="158.31" y="639.86" width="29.65" height="28.87" fill="#f7fbff"/>
<rect x="187.96" y="639.86" width="29.65" height="28.87" fill="#f7fbff"/>
<rect x="217.61" y="639.86" width="29.65" height="28.87" fill="#f7fbff"/>
<rect x="247.27" y="639.86" width="29.65" height="28.87" fill="#f7fbff"/>
<rect x="276.92" y="639.86" width="29.65" height="28.87" fill="#f7fbff"/>
<rect x="306.57" y="639.86" width="29.65" height="28.87" fill="#f7fbff"/>
<rect x="336.23" y="639.86" width="29.65" height="28.87" fill="#f5fafe"/>
<rect x="365.88" y="639.86" width="29.65" height="28.87" fill="#f7fbff"/>
<rect x="395.53" y="639.86" width="29.65" height="28.87" fill="#f7fbff"/>
<rect x="425.19" y="639.86" width="29.65" height="28.87" fill="#f7fbff"/>
<rect x="454.84" y="639.86" width="29.65" height="28.87" fill="#f7fbff"/>
<rect x="484.49" y="639.86" width="29.65" height="28.87" fill="#f5fafe"/>
<rect x="514.15" y="639.86" width="29.65" height="28.87" fill="#f7fbff"/>
<rect x="543.80" y="639.86" width="29.65" height="28.87" fill="#f7fbff"/>
<rect x="573.45" y="639.86" width="29.65" height="28.87" fill="#f7fbff"/>
<rect x="603.11" y="639.86" width="29.65" height="28.87" fill="#f7fbff"/>
<rect x="632.76" y="639.86" width="29.65" height="28.87" fill="#f7fbff"/>
<rect x="662.41" y="639.86" width="29.65" height="28.87" fill="#f5fafe"/>
<rect x="692.07" y="639.86" width="29.65" height="28.87" fill="#f5fafe"/>
<rect x="721.72" y="639.86" width="29.65" height="28.87" fill="#f3f8fe"/>
<rect x="751.37" y="639.86" width="29.65" height="28.87" fill="#002c6e"/>
<rect x="781.03" y="639.86" width="29.65" height="28.87" fill="#003175"/>
<rect x="810.68" y="639.86" width="29.65" height="28.87" fill="#004794"/>
<rect x="840.33" y="639.86" width="29.65" height="28.87" fill="#f5fafe"/>
<rect x="869.99" y="639.86" width="29.65" height="28.87" fill="#edf4fc"/>
<rect x="899.64" y="639.86" width="29.65" height="28.87" fill="#eff6fd"/>
<rect x="929.29" y="639.86" width="29.65" height="28.87" fill="#c1daef"/>
<rect x="958.95" y="639.86" width="29.65" height="28.87" fill="#eff6fd"/>
<rect x="99.00" y="668.74" width="29.65" height="28.87" fill="#dfebf8"/>
<rect x="128.65" y="668.74" width="29.65" height="28.87" fill="#f7fbff"/>
<rect x="158.31" y="668.74" width="29.65" height="28.87" fill="#f7fbff"/>
<rect x="187.96" y="668.74" width="29.65" height="28.87" fill="#f7fbff"/>
<rect x="217.61" y="668.74" width="29.65" height="28.87" fill="#f7fbff"/>
<rect x="247.27" y="668.74" width="29.65" height="28.87" fill="#f7fbff"/>
<rect x="276.92" y="668.74" width="29.65" height="28.87" fill="#f7fbff"/>
<rect x="306.57" y="668.74" width="29.65" height="28.87" fill="#f7fbff"/>
<rect x="336.23" y="668.74" width="29.65" height="28.87" fill="#f7fbff"/>
<rect x="365.88" y="668.74" width="29.65" height="28.87" fill="#f7fbff"/>
<rect x="395.53" y="668.74" width="29.65" height="28.87" fill="#f7fbff"/>
<rect x="425.19" y="668.74" width="29.65" height="28.87" fill="#f7fbff"/>
<rect x="454.84" y="668.74" width="29.65" height="28.87" fill="#f7fbff"/>
<rect x="484.49" y="668.74" width="29.65" height="28.87" fill="#f7fbff"/>
<rect x="514.15" y="668.74" width="29.65" height="28.87" fill="#f7fbff"/>
<rect x="543.80" y="668.74" width="29.65" height="28.87" fill="#f7fbff"/>
<rect x="573.45" y="668.74" width="29.65" height="28.87" fill="#f7fbff"/>
<rect x="603.11" y="668.74" width="29.65" height="28.87" fill="#f7fbff"/>
<rect x="632.76" y="668.74" width="29.65" height="28.87" fill="#f7fbff"/>
<rect x="662.41" y="668.74" width="29.65" height="28.87" fill="#f7fbff"/>
<rect x="692.07" y="668.74" width="29.65" height="28.87" fill="#f3f8fe"/>
<rect x="721.72" y="668.74" width="29.65" height="28.87" fill="#f5fafe"/>
<rect x="751.37" y="668.74" width="29.65" height="28.87" fill="#003175"/>
<rect x="781.03" y="668.74" width="29.65" height="28.87" fill="#002c6e"/>
<rect x="810.68" y="668.74" width="29.65" height="28.87" fill="#004794"/>
<rect x="840.33" y="668.74" width="29.65" height="28.87" fill="#e7f1fa"/>
<rect x="869.99" y="668.74" width="29.65" height="28.87" fill="#e1edf8"/>
<rect x="899.64" y="668.74" width="29.65" height="28.87" fill="#f5fafe"/>
<rect x="929.29" y="668.74" width="29.65" height="28.87" fill="#a0cee8"/>
<rect x="958.95" y="668.74" width="29.65" height="28.87" fill="#dfebf8"/>
<rect x="99.00" y="697.61" width="29.65" height="28.87" fill="#eff6fd"/>
<rect x="128.65" y="697.61" width="29.65" height="28.87" fill="#f7fbff"/>
<rect x="158.31" y="697.61" width="29.65" height="28.87" fill="#f5fafe"/>
<rect x="187.96" y="697.61" width="29.65" height="28.87" fill="#f5fafe"/>
<rect x="217.61" y="697.61" width="29.65" height="28.87" fill="#f7fbff"/>
<rect x="247.27" y="697.61" width="29.65" height="28.87" fill="#f7fbff"/>
<rect x="276.92" y="697.61" width="29.65" height="28.87" fill="#f7fbff"/>
<rect x="306.57" y="697.61" width="29.65" height="28.87" fill="#f5fafe"/>
<rect x="336.23" y="697.61" width="29.65" height="28.87" fill="#f5fafe"/>
<rect x="365.88" y="697.61" width="29.65" height="28.87" fill="#f7fbff"/>
<rect x="395.53" y="697.61" width="29.65" height="28.87" fill="#f7fbff"/>
<rect x="425.19" y="697.61" width="29.65" height="28.87" fill="#f5fafe"/>
<rect x="454.84" y="697.61" width="29.65" height="28.87" fill="#f7fbff"/>
<rect x="484.49" y="697.61" width="29.65" height="28.87" fill="#f5fafe"/>
<rect x="514.15" y="697.61" width="29.65" height="28.87" fill="#f5fafe"/>
<rect x="543.80" y="697.61" width="29.65" height="28.87" fill="#f5fafe"/>
<rect x="573.45" y="697.61" width="29.65" height="28.87" fill="#f5fafe"/>
<rect x="603.11" y="697.61" width="29.65" height="28.87" fill="#f7fbff"/>
<rect x="632.76" y="697.61" width="29.65" height="28.87" fill="#f7fbff"/>
<rect x="662.41" y="697.61" width="29.65" height="28.87" fill="#f5fafe"/>
<rect x="692.07" y="697.61" width="29.65" height="28.87" fill="#f5fafe"/>
<rect x="721.72" y="697.61" width="29.65" height="28.87" fill="#f3f8fe"/>
<rect x="751.37" y="697.61" width="29.65" height="28.87" fill="#004794"/>
<rect x="781.03" y="697.61" width="29.65" height="28.87" fill="#004794"/>
<rect x="810.68" y="697.61" width="29.65" height="28.87" fill="#002c6e"/>
<rect x="840.33" y="697.61" width="29.65" height="28.87" fill="#f5fafe"/>
<rect x="869.99" y="697.61" width="29.65" height="28.87" fill="#eff6fd"/>
<rect x="899.64" y="697.61" width="29.65" height="28.87" fill="#edf4fc"/>
<rect x="929.29" y="697.61" width="29.65" height="28.87" fill="#edf4fc"/>
<rect x="958.95" y="697.61" width="29.65" height="28.87" fill="#f5fafe"/>
<rect x="99.00" y="726.48" width="29.65" height="28.87" fill="#dceaf7"/>
<rect x="128.65" y="726.48" width="29.65" height="28.87" fill="#e1edf8"/>
<rect x="158.31" y="726.48" width="29.65" height="28.87" fill="#f5fafe"/>
<rect x="187.96" y="726.48" width="29.65" height="28.87" fill="#e7f1fa"/>
<rect x="217.61" y="726.48" width="29.65" height="28.87" fill="#dceaf7"/>
<rect x="247.27" y="726.48" width="29.65" height="28.87" fill="#f5fafe"/>
<rect x="276.92" y="726.48" width="29.65" height="28.87" fill="#e5effa"/>
<rect x="306.57" y="726.48" width="29.65" height="28.87" fill="#dae9f6"/>
<rect x="336.23" y="726.48" width="29.65" height="28.87" fill="#eff6fd"/>
<rect x="365.88" y="726.48" width="29.65" height="28.87" fill="#e1edf8"/>
<rect x="395.53" y="726.48" width="29.65" height="28.87" fill="#edf4fc"/>
<rect x="425.19" y="726.48" width="29.65" height="28.87" fill="#f1f7fd"/>
<rect x="454.84" y="726.48" width="29.65" height="28.87" fill="#f3f8fe"/>
<rect x="484.49" y="726.48" width="29.65" height="28.87" fill="#dceaf7"/>
<rect x="514.15" y="726.48" width="29.65" height="28.87" fill="#f5fafe"/>
<rect x="543.80" y="726.48" width="29.65" height="28.87" fill="#dae9f6"/>
<rect x="573.45" y="726.48" width="29.65" height="28.87" fill="#eff6fd"/>
<rect x="603.11" y="726.48" width="29.65" height="28.87" fill="#f5fafe"/>
<rect x="632.76" y="726.48" width="29.65" height="28.87" fill="#f5fafe"/>
<rect x="662.41" y="726.48" width="29.65" height="28.87" fill="#e1edf8"/>
<rect x="692.07" y="726.48" width="29.65" height="28.87" fill="#d1e4f3"/>
<rect x="721.72" y="726.48" width="29.65" height="28.87" fill="#cde1f2"/>
<rect x="751.37" y="726.48" width="29.65" height="28.87" fill="#f5fafe"/>
<rect x="781.03" y="726.48" width="29.65" height="28.87" fill="#e7f1fa"/>
<rect x="810.68" y="726.48" width="29.65" height="28.87" fill="#f5fafe"/>
<rect x="840.33" y="726.48" width="29.65" height="28.87" fill="#002c6e"/>
<rect x="869.99" y="726.48" width="29.65" height="28.87" fill="#f5fafe"/>
<rect x="899.64" y="726.48" width="29.65" height="28.87" fill="#007fc2"/>
<rect x="929.29" y="726.48" width="29.65" height="28.87" fill="#ebf3fb"/>
<rect x="958.95" y="726.48" width="29.65" height="28.87" fill="#edf4fc"/>
<rect x="99.00" y="755.36" width="29.65" height="28.87" fill="#70bde0"/>
<rect x="128.65" y="755.36" width="29.65" height="28.87" fill="#f7fbff"/>
<rect x="158.31" y="755.36" width="29.65" height="28.87" fill="#f7fbff"/>
<rect x="187.96" y="755.36" width="29.65" height="28.87" fill="#f7fbff"/>
<rect x="217.61" y="755.36" width="29.65" height="28.87" fill="#f5fafe"/>
<rect x="247.27" y="755.36" width="29.65" height="28.87" fill="#f7fbff"/>
<rect x="276.92" y="755.36" width="29.65" height="28.87" fill="#f5fafe"/>
<rect x="306.57" y="755.36" width="29.65" height="28.87" fill="#f7fbff"/>
<rect x="336.23" y="755.36" width="29.65" height="28.87" fill="#f7fbff"/>
<rect x="365.88" y="755.36" width="29.65" height="28.87" fill="#f5fafe"/>
<rect x="395.53" y="755.36" width="29.65" height="28.87" fill="#f5fafe"/>
<rect x="425.19" y="755.36" width="29.65" height="28.87" fill="#f5fafe"/>
<rect x="454.84" y="755.36" width="29.65" height="28.87" fill="#f7fbff"/>
<rect x="484.49" y="755.36" width="29.65" height="28.87" fill="#f7fbff"/>
<rect x="514.15" y="755.36" width="29.65" height="28.87" fill="#f5fafe"/>
<rect x="543.80" y="755.36" width="29.65" height="28.87" fill="#f7fbff"/>
<rect x="573.45" y="755.36" width="29.65" height="28.87" fill="#f5fafe"/>
<rect x="603.11" y="755.36" width="29.65" height="28.87" fill="#f7fbff"/>
<rect x="632.76" y="755.36" width="29.65" height="28.87" fill="#f5fafe"/>
<rect x="662.41" y="755.36" width="29.65" height="28.87" fill="#ebf3fb"/>
<rect x="692.07" y="755.36" width="29.65" height="28.87" fill="#f5fafe"/>
<rect x="721.72" y="755.36" width="29.65" height="28.87" fill="#e5effa"/>
<rect x="751.37" y="755.36" width="29.65" height="28.87" fill="#edf4fc"/>
<rect x="781.03" y="755.36" width="29.65" height="28.87" fill="#e1edf8"/>
<rect x="810.68" y="755.36" width="29.65" height="28.87" fill="#eff6fd"/>
<rect x="840.33" y="755.36" width="29.65" height="28.87" fill="#f5fafe"/>
<rect x="869.99" y="755.36" width="29.65" height="28.87" fill="#002c6e"/>
<rect x="899.64" y="755.36" width="29.65" height="28.87" fill="#9bcce7"/>
<rect x="929.29" y="755.36" width="29.65" height="28.87" fill="#f7fbff"/>
<rect x="958.95" y="755.36" width="29.65" height="28.87" fill="#006bb5"/>
<rect x="99.00" y="784.23" width="29.65" height="28.87" fill="#97cbe7"/>
<rect x="128.65" y="784.23" width="29.65" height="28.87" fill="#f7fbff"/>
<rect x="158.31" y="784.23" width="29.65" height="28.87" fill="#f7fbff"/>
<rect x="187.96" y="784.23" width="29.65" height="28.87" fill="#f7fbff"/>
<rect x="217.61" y="784.23" width="29.65" height="28.87" fill="#f7fbff"/>
<rect x="247.27" y="784.23" width="29.65" height="28.87" fill="#f7fbff"/>
<rect x="276.92" y="784.23" width="29.65" height="28.87" fill="#f7fbff"/>
<rect x="306.57" y="784.23" width="29.65" height="28.87" fill="#f7fbff"/>
<rect x="336.23" y="784.23" width="29.65" height="28.87" fill="#f7fbff"/>
<rect x="365.88" y="784.23" width="29.65" height="28.87" fill="#f7fbff"/>
<rect x="395.53" y="784.23" width="29.65" height="28.87" fill="#f7fbff"/>
<rect x="425.19" y="784.23" width="29.65" height="28.87" fill="#f7fbff"/>
<rect x="454.84" y="784.23" width="29.65" height="28.87" fill="#f7fbff"/>
<rect x="484.49" y="784.23" width="29.65" height="28.87" fill="#f7fbff"/>
<rect x="514.15" y="784.23" width="29.65" height="28.87" fill="#f7fbff"/>
<rect x="543.80" y="784.23" width="29.65" height="28.87" fill="#f7fbff"/>
<rect x="573.45" y="784.23" width="29.65" height="28.87" fill="#f7fbff"/>
<rect x="603.11" y="784.23" width="29.65" height="28.87" fill="#f7fbff"/>
<rect x="632.76" y="784.23" width="29.65" height="28.87" fill="#f7fbff"/>
<rect x="662.41" y="784.23" width="29.65" height="28.87" fill="#e3eef9"/>
<rect x="692.07" y="784.23" width="29.65" height="28.87" fill="#dfebf8"/>
<rect x="721.72" y="784.23" width="29.65" height="28.87" fill="#eff6fd"/>
<rect x="751.37" y="784.23" width="29.65" height="28.87" fill="#eff6fd"/>
<rect x="781.03" y="784.23" width="29.65" height="28.87" fill="#f5fafe"/>
<rect x="810.68" y="784.23" width="29.65" height="28.87" fill="#edf4fc"/>
<rect x="840.33" y="784.23" width="29.65" height="28.87" fill="#007fc2"/>
<rect x="869.99" y="784.23" width="29.65" height="28.87" fill="#9bcce7"/>
<rect x="899.64" y="784.23" width="29.65" height="28.87" fill="#002c6e"/>
<rect x="929.29" y="784.23" width="29.65" height="28.87" fill="#f5fafe"/>
<rect x="958.95" y="784.23" width="29.65" height="28.87" fill="#32add9"/>
<rect x="99.00" y="813.10" width="29.65" height="28.87" fill="#d4e5f4"/>
<rect x="128.65" y="813.10" width="29.65" height="28.87" fill="#f7fbff"/>
<rect x="158.31" y="813.10" width="29.65" height="28.87" fill="#f7fbff"/>
<rect x="187.96" y="813.10" width="29.65" height="28.87" fill="#f7fbff"/>
<rect x="217.61" y="813.10" width="29.65" height="28.87" fill="#f7fbff"/>
<rect x="247.27" y="813.10" width="29.65" height="28.87" fill="#f7fbff"/>
<rect x="276.92" y="813.10" width="29.65" height="28.87" fill="#f7fbff"/>
<rect x="306.57" y="813.10" width="29.65" height="28.87" fill="#f7fbff"/>
<rect x="336.23" y="813.10" width="29.65" height="28.87" fill="#f7fbff"/>
<rect x="365.88" y="813.10" width="29.65" height="28.87" fill="#f7fbff"/>
<rect x="395.53" y="813.10" width="29.65" height="28.87" fill="#f7fbff"/>
<rect x="425.19" y="813.10" width="29.65" height="28.87" fill="#f7fbff"/>
<rect x="454.84" y="813.10" width="29.65" height="28.87" fill="#f7fbff"/>
<rect x="484.49" y="813.10" width="29.65" height="28.87" fill="#f7fbff"/>
<rect x="514.15" y="813.10" width="29.65" height="28.87" fill="#f7fbff"/>
<rect x="543.80" y="813.10" width="29.65" height="28.87" fill="#f7fbff"/>
<rect x="573.45" y="813.10" width="29.65" height="28.87" fill="#f7fbff"/>
<rect x="603.11" y="813.10" width="29.65" height="28.87" fill="#f7fbff"/>
<rect x="632.76" y="813.10" width="29.65" height="28.87" fill="#f7fbff"/>
<rect x="662.41" y="813.10" width="29.65" height="28.87" fill="#f3f8fe"/>
<rect x="692.07" y="813.10" width="29.65" height="28.87" fill="#f7fbff"/>
<rect x="721.72" y="813.10" width="29.65" height="28.87" fill="#f1f7fd"/>
<rect x="751.37" y="813.10" width="29.65" height="28.87" fill="#c1daef"/>
<rect x="781.03" y="813.10" width="29.65" height="28.87" fill="#a0cee8"/>
<rect x="810.68" y="813.10" width="29.65" height="28.87" fill="#edf4fc"/>
<rect x="840.33" y="813.10" width="29.65" height="28.87" fill="#ebf3fb"/>
<rect x="869.99" y="813.10" width="29.65" height="28.87" fill="#f7fbff"/>
<rect x="899.64" y="813.10" width="29.65" height="28.87" fill="#f5fafe"/>
<rect x="929.29" y="813.10" width="29.65" height="28.87" fill="#002c6e"/>
<rect x="958.95" y="813.10" width="29.65" height="28.87" fill="#f7fbff"/>
<rect x="99.00" y="841.98" width="29.65" height="28.87" fill="#46b1db"/>
<rect x="128.65" y="841.98" width="29.65" height="28.87" fill="#f7fbff"/>
<rect x="158.31" y="841.98" width="29.65" height="28.87" fill="#f7fbff"/>
<rect x="187.96" y="841.98" width="29.65" height="28.87" fill="#f7fbff"/>
<rect x="217.61" y="841.98" width="29.65" height="28.87" fill="#f7fbff"/>
<rect x="247.27" y="841.98" width="29.65" height="28.87" fill="#f7fbff"/>
<rect x="276.92" y="841.98" width="29.65" height="28.87" fill="#f7fbff"/>
<rect x="306.57" y="841.98" width="29.65" height="28.87" fill="#f7fbff"/>
<rect x="336.23" y="841.98" width="29.65" height="28.87" fill="#f7fbff"/>
<rect x="365.88" y="841.98" width="29.65" height="28.87" fill="#f7fbff"/>
<rect x="395.53" y="841.98" width="29.65" height="28.87" fill="#f7fbff"/>
<rect x="425.19" y="841.98" width="29.65" height="28.87" fill="#f7fbff"/>
<rect x="454.84" y="841.98" width="29.65" height="28.87" fill="#f7fbff"/>
<rect x="484.49" y="841.98" width="29.65" height="28.87" fill="#f7fbff"/>
<rect x="514.15" y="841.98" width="29.65" height="28.87" fill="#f7fbff"/>
<rect x="543.80" y="841.98" width="29.65" height="28.87" fill="#f7fbff"/>
<rect x="573.45" y="841.98" width="29.65" height="28.87" fill="#f7fbff"/>
<rect x="603.11" y="841.98" width="29.65" height="28.87" fill="#f7fbff"/>
<rect x="632.76" y="841.98" width="29.65" height="28.87" fill="#f7fbff"/>
<rect x="662.41" y="841.98" width="29.65" height="28.87" fill="#e5effa"/>
<rect x="692.07" y="841.98" width="29.65" height="28.87" fill="#f5fafe"/>
<rect x="721.72" y="841.98" width="29.65" height="28.87" fill="#dfebf8"/>
<rect x="751.37" y="841.98" width="29.65" height="28.87" fill="#eff6fd"/>
<rect x="781.03" y="841.98" width="29.65" height="28.87" fill="#dfebf8"/>
<rect x="810.68" y="841.98" width="29.65" height="28.87" fill="#f5fafe"/>
<rect x="840.33" y="841.98" width="29.65" height="28.87" fill="#edf4fc"/>
<rect x="869.99" y="841.98" width="29.65" height="28.87" fill="#006bb5"/>
<rect x="899.64" y="841.98" width="29.65" height="28.87" fill="#32add9"/>
<rect x="929.29" y="841.98" width="29.65" height="28.87" fill="#f7fbff"/>
<rect x="958.95" y="841.98" width="29.65" height="28.87" fill="#002c6e"/>
</g>
<path d="M99.00 4.65V870.85M99.0 4.65H988.6M128.65 4.65V870.85M99.0 33.52H988.6M158.31 4.65V870.85M99.0 62.40H988.6M187.96 4.65V870.85M99.0 91.27H988.6M217.61 4.65V870.85M99.0 120.14H988.6M247.27 4.65V870.85M99.0 149.02H988.6M276.92 4.65V870.85M99.0 177.89H988.6M306.57 4.65V870.85M99.0 206.76H988.6M336.23 4.65V870.85M99.0 235.64H988.6M365.88 4.65V870.85M99.0 264.51H988.6M395.53 4.65V870.85M99.0 293.38H988.6M425.19 4.65V870.85M99.0 322.26H988.6M454.84 4.65V870.85M99.0 351.13H988.6M484.49 4.65V870.85M99.0 380.00H988.6M514.15 4.65V870.85M99.0 408.88H988.6M543.80 4.65V870.85M99.0 437.75H988.6M573.45 4.65V870.85M99.0 466.62H988.6M603.11 4.65V870.85M99.0 495.50H988.6M632.76 4.65V870.85M99.0 524.37H988.6M662.41 4.65V870.85M99.0 553.24H988.6M692.07 4.65V870.85M99.0 582.12H988.6M721.72 4.65V870.85M99.0 610.99H988.6M751.37 4.65V870.85M99.0 639.86H988.6M781.03 4.65V870.85M99.0 668.74H988.6M810.68 4.65V870.85M99.0 697.61H988.6M840.33 4.65V870.85M99.0 726.48H988.6M869.99 4.65V870.85M99.0 755.36H988.6M899.64 4.65V870.85M99.0 784.23H988.6M929.29 4.65V870.85M99.0 813.10H988.6M958.95 4.65V870.85M99.0 841.98H988.6M988.60 4.65V870.85M99.0 870.85H988.6" stroke="#fff" stroke-width="1.25" fill="none"/>
<g transform="scale(0.96 1)">
<text class="a w" x="118.57" y="22.58">1.00</text>
<text class="a" x="149.46" y="22.58">0.20</text>
<text class="a" x="180.35" y="22.58">0.17</text>
<text class="a" x="211.24" y="22.58">0.08</text>
<text class="a" x="242.12" y="22.58">0.05</text>
<text class="a" x="273.01" y="22.58">0.02</text>
<text class="a" x="303.90" y="22.58">0.20</text>
<text class="a" x="334.79" y="22.58">0.04</text>
<text class="a" x="365.68" y="22.58">0.07</text>
<text class="a" x="396.57" y="22.58">0.19</text>
<text class="a" x="427.46" y="22.58">0.03</text>
<text class="a" x="458.35" y="22.58">0.05</text>
<text class="a" x="489.24" y="22.58">0.11</text>
<text class="a" x="520.12" y="22.58">0.04</text>
<text class="a" x="551.01" y="22.58">0.22</text>
<text class="a" x="581.90" y="22.58">0.02</text>
<text class="a" x="612.79" y="22.58">0.14</text>
<text class="a" x="643.68" y="22.58">0.00</text>
<text class="a" x="674.57" y="22.58">0.14</text>
<text class="a" x="705.46" y="22.58">0.13</text>
<text class="a" x="736.35" y="22.58">0.03</text>
<text class="a" x="767.24" y="22.58">0.17</text>
<text class="a" x="798.12" y="22.58">0.06</text>
<text class="a" x="829.01" y="22.58">0.12</text>
<text class="a" x="859.90" y="22.58">0.04</text>
<text class="a" x="890.79" y="22.58">0.13</text>
<text class="a" x="921.68" y="22.58">0.43</text>
<text class="a" x="952.57" y="22.58">0.35</text>
<text class="a" x="983.46" y="22.58">0.17</text>
<text class="a w" x="1014.35" y="22.58">0.48</text>
<text class="a" x="118.57" y="51.47">0.20</text>
<text class="a w" x="149.46" y="51.47">1.00</text>
<text class="a" x="180.35" y="51.47">0.06</text>
<text class="a" x="211.24" y="51.47">0.26</text>
<text class="a" x="242.12" y="51.47">0.24</text>
<text class="a w" x="273.01" y="51.47">0.48</text>
<text class="a" x="303.90" y="51.47">0.16</text>
<text class="a" x="334.79" y="51.47">0.16</text>
<text class="a" x="365.68" y="51.47">0.21</text>
<text class="a w" x="396.57" y="51.47">0.60</text>
<text class="a" x="427.46" y="51.47">0.19</text>
<text class="a" x="458.35" y="51.47">0.23</text>
<text class="a" x="489.24" y="51.47">0.36</text>
<text class="a" x="520.12" y="51.47">0.44</text>
<text class="a" x="551.01" y="51.47">0.42</text>
<text class="a" x="581.90" y="51.47">0.39</text>
<text class="a" x="612.79" y="51.47">0.43</text>
<text class="a w" x="643.68" y="51.47">0.50</text>
<text class="a" x="674.57" y="51.47">0.03</text>
<text class="a" x="705.46" y="51.47">0.19</text>
<text class="a" x="736.35" y="51.47">0.31</text>
<text class="a" x="767.24" y="51.47">0.15</text>
<text class="a" x="798.12" y="51.47">0.00</text>
<text class="a" x="829.01" y="51.47">0.00</text>
<text class="a" x="859.90" y="51.47">0.00</text>
<text class="a" x="890.79" y="51.47">0.11</text>
<text class="a" x="921.68" y="51.47">0.00</text>
<text class="a" x="952.57" y="51.47">0.00</text>
<text class="a" x="983.46" y="51.47">0.00</text>
<text class="a" x="1014.35" y="51.47">0.00</text>
<text class="a" x="118.57" y="80.36">0.17</text>
<text class="a" x="149.46" y="80.36">0.06</text>
<text class="a w" x="180.35" y="80.36">1.00</text>
<text class="a" x="211.24" y="80.36">0.33</text>
<text class="a" x="242.12" y="80.36">0.17</text>
<text class="a w" x="273.01" y="80.36">0.56</text>
<text class="a w" x="303.90" y="80.36">0.67</text>
<text class="a" x="334.79" y="80.36">0.02</text>
<text class="a w" x="365.68" y="80.36">0.56</text>
<text class="a" x="396.57" y="80.36">0.16</text>
<text class="a" x="427.46" y="80.36">0.23</text>
<text class="a" x="458.35" y="80.36">0.04</text>
<text class="a w" x="489.24" y="80.36">0.81</text>
<text class="a" x="520.12" y="80.36">0.32</text>
<text class="a w" x="551.01" y="80.36">0.67</text>
<text class="a w" x="581.90" y="80.36">0.73</text>
<text class="a" x="612.79" y="80.36">0.27</text>
<text class="a w" x="643.68" y="80.36">0.68</text>
<text class="a" x="674.57" y="80.36">0.21</text>
<text class="a" x="705.46" y="80.36">0.28</text>
<text class="a" x="736.35" y="80.36">0.41</text>
<text class="a w" x="767.24" y="80.36">0.55</text>
<text class="a" x="798.12" y="80.36">0.00</text>
<text class="a" x="829.01" y="80.36">0.00</text>
<text class="a" x="859.90" y="80.36">0.01</text>
<text class="a" x="890.79" y="80.36">0.01</text>
<text class="a" x="921.68" y="80.36">0.00</text>
<text class="a" x="952.57" y="80.36">0.00</text>
<text class="a" x="983.46" y="80.36">0.00</text>
<text class="a" x="1014.35" y="80.36">0.00</text>
<text class="a" x="118.57" y="109.24">0.08</text>
<text class="a" x="149.46" y="109.24">0.26</text>
<text class="a" x="180.35" y="109.24">0.33</text>
<text class="a w" x="211.24" y="109.24">1.00</text>
<text class="a" x="242.12" y="109.24">0.30</text>
<text class="a" x="273.01" y="109.24">0.44</text>
<text class="a" x="303.90" y="109.24">0.45</text>
<text class="a w" x="334.79" y="109.24">0.58</text>
<text class="a" x="365.68" y="109.24">0.07</text>
<text class="a w" x="396.57" y="109.24">0.69</text>
<text class="a" x="427.46" y="109.24">0.15</text>
<text class="a" x="458.35" y="109.24">0.34</text>
<text class="a" x="489.24" y="109.24">0.03</text>
<text class="a" x="520.12" y="109.24">0.02</text>
<text class="a" x="551.01" y="109.24">0.18</text>
<text class="a w" x="581.90" y="109.24">0.80</text>
<text class="a" x="612.79" y="109.24">0.21</text>
<text class="a w" x="643.68" y="109.24">0.62</text>
<text class="a w" x="674.57" y="109.24">0.80</text>
<text class="a" x="705.46" y="109.24">0.01</text>
<text class="a w" x="736.35" y="109.24">0.54</text>
<text class="a" x="767.24" y="109.24">0.27</text>
<text class="a" x="798.12" y="109.24">0.00</text>
<text class="a" x="829.01" y="109.24">0.00</text>
<text class="a" x="859.90" y="109.24">0.01</text>
<text class="a" x="890.79" y="109.24">0.08</text>
<text class="a" x="921.68" y="109.24">0.00</text>
<text class="a" x="952.57" y="109.24">0.00</text>
<text class="a" x="983.46" y="109.24">0.00</text>
<text class="a" x="1014.35" y="109.24">0.00</text>
<text class="a" x="118.57" y="138.13">0.05</text>
<text class="a" x="149.46" y="138.13">0.24</text>
<text class="a" x="180.35" y="138.13">0.17</text>
<text class="a" x="211.24" y="138.13">0.30</text>
<text class="a w" x="242.12" y="138.13">1.00</text>
<text class="a" x="273.01" y="138.13">0.20</text>
<text class="a" x="303.90" y="138.13">0.36</text>
<text class="a w" x="334.79" y="138.13">0.73</text>
<text class="a" x="365.68" y="138.13">0.11</text>
<text class="a" x="396.57" y="138.13">0.15</text>
<text class="a w" x="427.46" y="138.13">0.73</text>
<text class="a" x="458.35" y="138.13">0.08</text>
<text class="a" x="489.24" y="138.13">0.37</text>
<text class="a" x="520.12" y="138.13">0.11</text>
<text class="a" x="551.01" y="138.13">0.20</text>
<text class="a" x="581.90" y="138.13">0.16</text>
<text class="a" x="612.79" y="138.13">0.10</text>
<text class="a" x="643.68" y="138.13">0.03</text>
<text class="a w" x="674.57" y="138.13">0.63</text>
<text class="a w" x="705.46" y="138.13">0.58</text>
<text class="a" x="736.35" y="138.13">0.11</text>
<text class="a" x="767.24" y="138.13">0.31</text>
<text class="a" x="798.12" y="138.13">0.00</text>
<text class="a" x="829.01" y="138.13">0.00</text>
<text class="a" x="859.90" y="138.13">0.00</text>
<text class="a" x="890.79" y="138.13">0.13</text>
<text class="a" x="921.68" y="138.13">0.01</text>
<text class="a" x="952.57" y="138.13">0.00</text>
<text class="a" x="983.46" y="138.13">0.00</text>
<text class="a" x="1014.35" y="138.13">0.00</text>
<text class="a" x="118.57" y="167.02">0.02</text>
<text class="a w" x="149.46" y="167.02">0.48</text>
<text class="a w" x="180.35" y="167.02">0.56</text>
<text class="a" x="211.24" y="167.02">0.44</text>
<text class="a" x="242.12" y="167.02">0.20</text>
<text class="a w" x="273.01" y="167.02">1.00</text>
<text class="a" x="303.90" y="167.02">0.09</text>
<text class="a" x="334.79" y="167.02">0.13</text>
<text class="a" x="365.68" y="167.02">0.47</text>
<text class="a w" x="396.57" y="167.02">0.49</text>
<text class="a" x="427.46" y="167.02">0.16</text>
<text class="a" x="458.35" y="167.02">0.46</text>
<text class="a w" x="489.24" y="167.02">0.62</text>
<text class="a" x="520.12" y="167.02">0.23</text>
<text class="a" x="551.01" y="167.02">0.06</text>
<text class="a w" x="581.90" y="167.02">0.58</text>
<text class="a" x="612.79" y="167.02">0.20</text>
<text class="a w" x="643.68" y="167.02">0.82</text>
<text class="a" x="674.57" y="167.02">0.11</text>
<text class="a" x="705.46" y="167.02">0.19</text>
<text class="a w" x="736.35" y="167.02">0.56</text>
<text class="a" x="767.24" y="167.02">0.21</text>
<text class="a" x="798.12" y="167.02">0.00</text>
<text class="a" x="829.01" y="167.02">0.00</text>
<text class="a" x="859.90" y="167.02">0.00</text>
<text class="a" x="890.79" y="167.02">0.01</text>
<text class="a" x="921.68" y="167.02">0.00</text>
<text class="a" x="952.57" y="167.02">0.00</text>
<text class="a" x="983.46" y="167.02">0.00</text>
<text class="a" x="1014.35" y="167.02">0.00</text>
<text class="a" x="118.57" y="195.91">0.20</text>
<text class="a" x="149.46" y="195.91">0.16</text>
<text class="a w" x="180.35" y="195.91">0.67</text>
<text class="a" x="211.24" y="195.91">0.45</text>
<text class="a" x="242.12" y="195.91">0.36</text>
<text class="a" x="273.01" y="195.91">0.09</text>
<text class="a w" x="303.90" y="195.91">1.00</text>
<text class="a" x="334.79" y="195.91">0.37</text>
<text class="a" x="365.68" y="195.91">0.39</text>
<text class="a w" x="396.57" y="195.91">0.73</text>
<text class="a" x="427.46" y="195.91">0.15</text>
<text class="a" x="458.35" y="195.91">0.31</text>
<text class="a w" x="489.24" y="195.91">0.73</text>
<text class="a" x="520.12" y="195.91">0.21</text>
<text class="a w" x="551.01" y="195.91">0.75</text>
<text class="a" x="581.90" y="195.91">0.03</text>
<text class="a" x="612.79" y="195.91">0.36</text>
<text class="a" x="643.68" y="195.91">0.15</text>
<text class="a w" x="674.57" y="195.91">0.75</text>
<text class="a" x="705.46" y="195.91">0.25</text>
<text class="a" x="736.35" y="195.91">0.08</text>
<text class="a w" x="767.24" y="195.91">0.68</text>
<text class="a" x="798.12" y="195.91">0.00</text>
<text class="a" x="829.01" y="195.91">0.00</text>
<text class="a" x="859.90" y="195.91">0.00</text>
<text class="a" x="890.79" y="195.91">0.09</text>
<text class="a" x="921.68" y="195.91">0.01</text>
<text class="a" x="952.57" y="195.91">0.00</text>
<text class="a" x="983.46" y="195.91">0.00</text>
<text class="a" x="1014.35" y="195.91">0.00</text>
<text class="a" x="118.57" y="224.80">0.04</text>
<text class="a" x="149.46" y="224.80">0.16</text>
<text class="a" x="180.35" y="224.80">0.02</text>
<text class="a w" x="211.24" y="224.80">0.58</text>
<text class="a w" x="242.12" y="224.80">0.73</text>
<text class="a" x="273.01" y="224.80">0.13</text>
<text class="a" x="303.90" y="224.80">0.37</text>
<text class="a w" x="334.79" y="224.80">1.00</text>
<text class="a" x="365.68" y="224.80">0.01</text>
<text class="a" x="396.57" y="224.80">0.24</text>
<text class="a" x="427.46" y="224.80">0.07</text>
<text class="a" x="458.35" y="224.80">0.12</text>
<text class="a" x="489.24" y="224.80">0.30</text>
<text class="a" x="520.12" y="224.80">0.23</text>
<text class="a" x="551.01" y="224.80">0.20</text>
<text class="a" x="581.90" y="224.80">0.13</text>
<text class="a" x="612.79" y="224.80">0.09</text>
<text class="a" x="643.68" y="224.80">0.17</text>
<text class="a w" x="674.57" y="224.80">0.81</text>
<text class="a" x="705.46" y="224.80">0.26</text>
<text class="a" x="736.35" y="224.80">0.09</text>
<text class="a" x="767.24" y="224.80">0.30</text>
<text class="a" x="798.12" y="224.80">0.00</text>
<text class="a" x="829.01" y="224.80">0.00</text>
<text class="a" x="859.90" y="224.80">0.01</text>
<text class="a" x="890.79" y="224.80">0.14</text>
<text class="a" x="921.68" y="224.80">0.00</text>
<text class="a" x="952.57" y="224.80">0.00</text>
<text class="a" x="983.46" y="224.80">0.00</text>
<text class="a" x="1014.35" y="224.80">0.00</text>
<text class="a" x="118.57" y="253.69">0.07</text>
<text class="a" x="149.46" y="253.69">0.21</text>
<text class="a w" x="180.35" y="253.69">0.56</text>
<text class="a" x="211.24" y="253.69">0.07</text>
<text class="a" x="242.12" y="253.69">0.11</text>
<text class="a" x="273.01" y="253.69">0.47</text>
<text class="a" x="303.90" y="253.69">0.39</text>
<text class="a" x="334.79" y="253.69">0.01</text>
<text class="a w" x="365.68" y="253.69">1.00</text>
<text class="a" x="396.57" y="253.69">0.23</text>
<text class="a" x="427.46" y="253.69">0.16</text>
<text class="a w" x="458.35" y="253.69">0.57</text>
<text class="a" x="489.24" y="253.69">0.34</text>
<text class="a w" x="520.12" y="253.69">0.87</text>
<text class="a w" x="551.01" y="253.69">0.61</text>
<text class="a" x="581.90" y="253.69">0.38</text>
<text class="a w" x="612.79" y="253.69">0.69</text>
<text class="a" x="643.68" y="253.69">0.15</text>
<text class="a" x="674.57" y="253.69">0.27</text>
<text class="a" x="705.46" y="253.69">0.16</text>
<text class="a" x="736.35" y="253.69">0.16</text>
<text class="a" x="767.24" y="253.69">0.34</text>
<text class="a" x="798.12" y="253.69">0.01</text>
<text class="a" x="829.01" y="253.69">0.00</text>
<text class="a" x="859.90" y="253.69">0.01</text>
<text class="a" x="890.79" y="253.69">0.04</text>
<text class="a" x="921.68" y="253.69">0.00</text>
<text class="a" x="952.57" y="253.69">0.00</text>
<text class="a" x="983.46" y="253.69">0.00</text>
<text class="a" x="1014.35" y="253.69">0.00</text>
<text class="a" x="118.57" y="282.57">0.19</text>
<text class="a w" x="149.46" y="282.57">0.60</text>
<text class="a" x="180.35" y="282.57">0.16</text>
<text class="a w" x="211.24" y="282.57">0.69</text>
<text class="a" x="242.12" y="282.57">0.15</text>
<text class="a w" x="273.01" y="282.57">0.49</text>
<text class="a w" x="303.90" y="282.57">0.73</text>
<text class="a" x="334.79" y="282.57">0.24</text>
<text class="a" x="365.68" y="282.57">0.23</text>
<text class="a w" x="396.57" y="282.57">1.00</text>
<text class="a" x="427.46" y="282.57">0.02</text>
<text class="a w" x="458.35" y="282.57">0.69</text>
<text class="a" x="489.24" y="282.57">0.06</text>
<text class="a" x="520.12" y="282.57">0.13</text>
<text class="a w" x="551.01" y="282.57">0.75</text>
<text class="a" x="581.90" y="282.57">0.45</text>
<text class="a w" x="612.79" y="282.57">0.66</text>
<text class="a w" x="643.68" y="282.57">0.53</text>
<text class="a w" x="674.57" y="282.57">0.65</text>
<text class="a" x="705.46" y="282.57">0.10</text>
<text class="a" x="736.35" y="282.57">0.47</text>
<text class="a" x="767.24" y="282.57">0.44</text>
<text class="a" x="798.12" y="282.57">0.00</text>
<text class="a" x="829.01" y="282.57">0.00</text>
<text class="a" x="859.90" y="282.57">0.00</text>
<text class="a" x="890.79" y="282.57">0.11</text>
<text class="a" x="921.68" y="282.57">0.01</text>
<text class="a" x="952.57" y="282.57">0.00</text>
<text class="a" x="983.46" y="282.57">0.00</text>
<text class="a" x="1014.35" y="282.57">0.00</text>
<text class="a" x="118.57" y="311.46">0.03</text>
<text class="a" x="149.46" y="311.46">0.19</text>
<text class="a" x="180.35" y="311.46">0.23</text>
<text class="a" x="211.24" y="311.46">0.15</text>
<text class="a w" x="242.12" y="311.46">0.73</text>
<text class="a" x="273.01" y="311.46">0.16</text>
<text class="a" x="303.90" y="311.46">0.15</text>
<text class="a" x="334.79" y="311.46">0.07</text>
<text class="a" x="365.68" y="311.46">0.16</text>
<text class="a" x="396.57" y="311.46">0.02</text>
<text class="a w" x="427.46" y="311.46">1.00</text>
<text class="a" x="458.35" y="311.46">0.00</text>
<text class="a" x="489.24" y="311.46">0.24</text>
<text class="a" x="520.12" y="311.46">0.07</text>
<text class="a" x="551.01" y="311.46">0.10</text>
<text class="a" x="581.90" y="311.46">0.36</text>
<text class="a" x="612.79" y="311.46">0.24</text>
<text class="a" x="643.68" y="311.46">0.21</text>
<text class="a" x="674.57" y="311.46">0.12</text>
<text class="a w" x="705.46" y="311.46">0.59</text>
<text class="a" x="736.35" y="311.46">0.07</text>
<text class="a" x="767.24" y="311.46">0.16</text>
<text class="a" x="798.12" y="311.46">0.00</text>
<text class="a" x="829.01" y="311.46">0.00</text>
<text class="a" x="859.90" y="311.46">0.00</text>
<text class="a" x="890.79" y="311.46">0.05</text>
<text class="a" x="921.68" y="311.46">0.01</text>
<text class="a" x="952.57" y="311.46">0.00</text>
<text class="a" x="983.46" y="311.46">0.00</text>
<text class="a" x="1014.35" y="311.46">0.00</text>
<text class="a" x="118.57" y="340.35">0.05</text>
<text class="a" x="149.46" y="340.35">0.23</text>
<text class="a" x="180.35" y="340.35">0.04</text>
<text class="a" x="211.24" y="340.35">0.34</text>
<text class="a" x="242.12" y="340.35">0.08</text>
<text class="a" x="273.01" y="340.35">0.46</text>
<text class="a" x="303.90" y="340.35">0.31</text>
<text class="a" x="334.79" y="340.35">0.12</text>
<text class="a w" x="365.68" y="340.35">0.57</text>
<text class="a w" x="396.57" y="340.35">0.69</text>
<text class="a" x="427.46" y="340.35">0.00</text>
<text class="a w" x="458.35" y="340.35">1.00</text>
<text class="a" x="489.24" y="340.35">0.24</text>
<text class="a w" x="520.12" y="340.35">0.66</text>
<text class="a w" x="551.01" y="340.35">0.67</text>
<text class="a" x="581.90" y="340.35">0.17</text>
<text class="a w" x="612.79" y="340.35">0.87</text>
<text class="a w" x="643.68" y="340.35">0.61</text>
<text class="a" x="674.57" y="340.35">0.37</text>
<text class="a" x="705.46" y="340.35">0.33</text>
<text class="a" x="736.35" y="340.35">0.37</text>
<text class="a" x="767.24" y="340.35">0.14</text>
<text class="a" x="798.12" y="340.35">0.00</text>
<text class="a" x="829.01" y="340.35">0.00</text>
<text class="a" x="859.90" y="340.35">0.01</text>
<text class="a" x="890.79" y="340.35">0.03</text>
<text class="a" x="921.68" y="340.35">0.01</text>
<text class="a" x="952.57" y="340.35">0.00</text>
<text class="a" x="983.46" y="340.35">0.00</text>
<text class="a" x="1014.35" y="340.35">0.00</text>
<text class="a" x="118.57" y="369.24">0.11</text>
<text class="a" x="149.46" y="369.24">0.36</text>
<text class="a w" x="180.35" y="369.24">0.81</text>
<text class="a" x="211.24" y="369.24">0.03</text>
<text class="a" x="242.12" y="369.24">0.37</text>
<text class="a w" x="273.01" y="369.24">0.62</text>
<text class="a w" x="303.90" y="369.24">0.73</text>
<text class="a" x="334.79" y="369.24">0.30</text>
<text class="a" x="365.68" y="369.24">0.34</text>
<text class="a" x="396.57" y="369.24">0.06</text>
<text class="a" x="427.46" y="369.24">0.24</text>
<text class="a" x="458.35" y="369.24">0.24</text>
<text class="a w" x="489.24" y="369.24">1.00</text>
<text class="a" x="520.12" y="369.24">0.18</text>
<text class="a" x="551.01" y="369.24">0.35</text>
<text class="a w" x="581.90" y="369.24">0.49</text>
<text class="a" x="612.79" y="369.24">0.13</text>
<text class="a w" x="643.68" y="369.24">0.75</text>
<text class="a" x="674.57" y="369.24">0.45</text>
<text class="a" x="705.46" y="369.24">0.46</text>
<text class="a" x="736.35" y="369.24">0.35</text>
<text class="a w" x="767.24" y="369.24">0.56</text>
<text class="a" x="798.12" y="369.24">0.00</text>
<text class="a" x="829.01" y="369.24">0.00</text>
<text class="a" x="859.90" y="369.24">0.00</text>
<text class="a" x="890.79" y="369.24">0.02</text>
<text class="a" x="921.68" y="369.24">0.00</text>
<text class="a" x="952.57" y="369.24">0.00</text>
<text class="a" x="983.46" y="369.24">0.00</text>
<text class="a" x="1014.35" y="369.24">0.00</text>
<text class="a" x="118.57" y="398.13">0.04</text>
<text class="a" x="149.46" y="398.13">0.44</text>
<text class="a" x="180.35" y="398.13">0.32</text>
<text class="a" x="211.24" y="398.13">0.02</text>
<text class="a" x="242.12" y="398.13">0.11</text>
<text class="a" x="273.01" y="398.13">0.23</text>
<text class="a" x="303.90" y="398.13">0.21</text>
<text class="a" x="334.79" y="398.13">0.23</text>
<text class="a w" x="365.68" y="398.13">0.87</text>
<text class="a" x="396.57" y="398.13">0.13</text>
<text class="a" x="427.46" y="398.13">0.07</text>
<text class="a w" x="458.35" y="398.13">0.66</text>
<text class="a" x="489.24" y="398.13">0.18</text>
<text class="a w" x="520.12" y="398.13">1.00</text>
<text class="a" x="551.01" y="398.13">0.46</text>
<text class="a" x="581.90" y="398.13">0.33</text>
<text class="a w" x="612.79" y="398.13">0.62</text>
<text class="a" x="643.68" y="398.13">0.02</text>
<text class="a" x="674.57" y="398.13">0.30</text>
<text class="a" x="705.46" y="398.13">0.20</text>
<text class="a" x="736.35" y="398.13">0.09</text>
<text class="a" x="767.24" y="398.13">0.14</text>
<text class="a" x="798.12" y="398.13">0.01</text>
<text class="a" x="829.01" y="398.13">0.00</text>
<text class="a" x="859.90" y="398.13">0.01</text>
<text class="a" x="890.79" y="398.13">0.13</text>
<text class="a" x="921.68" y="398.13">0.00</text>
<text class="a" x="952.57" y="398.13">0.00</text>
<text class="a" x="983.46" y="398.13">0.00</text>
<text class="a" x="1014.35" y="398.13">0.00</text>
<text class="a" x="118.57" y="427.02">0.22</text>
<text class="a" x="149.46" y="427.02">0.42</text>
<text class="a w" x="180.35" y="427.02">0.67</text>
<text class="a" x="211.24" y="427.02">0.18</text>
<text class="a" x="242.12" y="427.02">0.20</text>
<text class="a" x="273.01" y="427.02">0.06</text>
<text class="a w" x="303.90" y="427.02">0.75</text>
<text class="a" x="334.79" y="427.02">0.20</text>
<text class="a w" x="365.68" y="427.02">0.61</text>
<text class="a w" x="396.57" y="427.02">0.75</text>
<text class="a" x="427.46" y="427.02">0.10</text>
<text class="a w" x="458.35" y="427.02">0.67</text>
<text class="a" x="489.24" y="427.02">0.35</text>
<text class="a" x="520.12" y="427.02">0.46</text>
<text class="a w" x="551.01" y="427.02">1.00</text>
<text class="a" x="581.90" y="427.02">0.23</text>
<text class="a w" x="612.79" y="427.02">0.82</text>
<text class="a" x="643.68" y="427.02">0.09</text>
<text class="a w" x="674.57" y="427.02">0.51</text>
<text class="a" x="705.46" y="427.02">0.00</text>
<text class="a" x="736.35" y="427.02">0.06</text>
<text class="a w" x="767.24" y="427.02">0.56</text>
<text class="a" x="798.12" y="427.02">0.00</text>
<text class="a" x="829.01" y="427.02">0.00</text>
<text class="a" x="859.90" y="427.02">0.01</text>
<text class="a" x="890.79" y="427.02">0.01</text>
<text class="a" x="921.68" y="427.02">0.01</text>
<text class="a" x="952.57" y="427.02">0.00</text>
<text class="a" x="983.46" y="427.02">0.00</text>
<text class="a" x="1014.35" y="427.02">0.00</text>
<text class="a" x="118.57" y="455.90">0.02</text>
<text class="a" x="149.46" y="455.90">0.39</text>
<text class="a w" x="180.35" y="455.90">0.73</text>
<text class="a w" x="211.24" y="455.90">0.80</text>
<text class="a" x="242.12" y="455.90">0.16</text>
<text class="a w" x="273.01" y="455.90">0.58</text>
<text class="a" x="303.90" y="455.90">0.03</text>
<text class="a" x="334.79" y="455.90">0.13</text>
<text class="a" x="365.68" y="455.90">0.38</text>
<text class="a" x="396.57" y="455.90">0.45</text>
<text class="a" x="427.46" y="455.90">0.36</text>
<text class="a" x="458.35" y="455.90">0.17</text>
<text class="a w" x="489.24" y="455.90">0.49</text>
<text class="a" x="520.12" y="455.90">0.33</text>
<text class="a" x="551.01" y="455.90">0.23</text>
<text class="a w" x="581.90" y="455.90">1.00</text>
<text class="a" x="612.79" y="455.90">0.00</text>
<text class="a w" x="643.68" y="455.90">0.76</text>
<text class="a" x="674.57" y="455.90">0.27</text>
<text class="a" x="705.46" y="455.90">0.25</text>
<text class="a w" x="736.35" y="455.90">0.59</text>
<text class="a" x="767.24" y="455.90">0.13</text>
<text class="a" x="798.12" y="455.90">0.00</text>
<text class="a" x="829.01" y="455.90">0.00</text>
<text class="a" x="859.90" y="455.90">0.01</text>
<text class="a" x="890.79" y="455.90">0.14</text>
<text class="a" x="921.68" y="455.90">0.00</text>
<text class="a" x="952.57" y="455.90">0.00</text>
<text class="a" x="983.46" y="455.90">0.00</text>
<text class="a" x="1014.35" y="455.90">0.00</text>
<text class="a" x="118.57" y="484.79">0.14</text>
<text class="a" x="149.46" y="484.79">0.43</text>
<text class="a" x="180.35" y="484.79">0.27</text>
<text class="a" x="211.24" y="484.79">0.21</text>
<text class="a" x="242.12" y="484.79">0.10</text>
<text class="a" x="273.01" y="484.79">0.20</text>
<text class="a" x="303.90" y="484.79">0.36</text>
<text class="a" x="334.79" y="484.79">0.09</text>
<text class="a w" x="365.68" y="484.79">0.69</text>
<text class="a w" x="396.57" y="484.79">0.66</text>
<text class="a" x="427.46" y="484.79">0.24</text>
<text class="a w" x="458.35" y="484.79">0.87</text>
<text class="a" x="489.24" y="484.79">0.13</text>
<text class="a w" x="520.12" y="484.79">0.62</text>
<text class="a w" x="551.01" y="484.79">0.82</text>
<text class="a" x="581.90" y="484.79">0.00</text>
<text class="a w" x="612.79" y="484.79">1.00</text>
<text class="a" x="643.68" y="484.79">0.45</text>
<text class="a" x="674.57" y="484.79">0.33</text>
<text class="a" x="705.46" y="484.79">0.36</text>
<text class="a" x="736.35" y="484.79">0.17</text>
<text class="a" x="767.24" y="484.79">0.27</text>
<text class="a" x="798.12" y="484.79">0.00</text>
<text class="a" x="829.01" y="484.79">0.00</text>
<text class="a" x="859.90" y="484.79">0.01</text>
<text class="a" x="890.79" y="484.79">0.04</text>
<text class="a" x="921.68" y="484.79">0.01</text>
<text class="a" x="952.57" y="484.79">0.00</text>
<text class="a" x="983.46" y="484.79">0.00</text>
<text class="a" x="1014.35" y="484.79">0.00</text>
<text class="a" x="118.57" y="513.68">0.00</text>
<text class="a w" x="149.46" y="513.68">0.50</text>
<text class="a w" x="180.35" y="513.68">0.68</text>
<text class="a w" x="211.24" y="513.68">0.62</text>
<text class="a" x="242.12" y="513.68">0.03</text>
<text class="a w" x="273.01" y="513.68">0.82</text>
<text class="a" x="303.90" y="513.68">0.15</text>
<text class="a" x="334.79" y="513.68">0.17</text>
<text class="a" x="365.68" y="513.68">0.15</text>
<text class="a w" x="396.57" y="513.68">0.53</text>
<text class="a" x="427.46" y="513.68">0.21</text>
<text class="a w" x="458.35" y="513.68">0.61</text>
<text class="a w" x="489.24" y="513.68">0.75</text>
<text class="a" x="520.12" y="513.68">0.02</text>
<text class="a" x="551.01" y="513.68">0.09</text>
<text class="a w" x="581.90" y="513.68">0.76</text>
<text class="a" x="612.79" y="513.68">0.45</text>
<text class="a w" x="643.68" y="513.68">1.00</text>
<text class="a" x="674.57" y="513.68">0.22</text>
<text class="a" x="705.46" y="513.68">0.38</text>
<text class="a w" x="736.35" y="513.68">0.61</text>
<text class="a" x="767.24" y="513.68">0.18</text>
<text class="a" x="798.12" y="513.68">0.00</text>
<text class="a" x="829.01" y="513.68">0.00</text>
<text class="a" x="859.90" y="513.68">0.00</text>
<text class="a" x="890.79" y="513.68">0.01</text>
<text class="a" x="921.68" y="513.68">0.00</text>
<text class="a" x="952.57" y="513.68">0.00</text>
<text class="a" x="983.46" y="513.68">0.00</text>
<text class="a" x="1014.35" y="513.68">0.00</text>
<text class="a" x="118.57" y="542.57">0.14</text>
<text class="a" x="149.46" y="542.57">0.03</text>
<text class="a" x="180.35" y="542.57">0.21</text>
<text class="a w" x="211.24" y="542.57">0.80</text>
<text class="a w" x="242.12" y="542.57">0.63</text>
<text class="a" x="273.01" y="542.57">0.11</text>
<text class="a w" x="303.90" y="542.57">0.75</text>
<text class="a w" x="334.79" y="542.57">0.81</text>
<text class="a" x="365.68" y="542.57">0.27</text>
<text class="a w" x="396.57" y="542.57">0.65</text>
<text class="a" x="427.46" y="542.57">0.12</text>
<text class="a" x="458.35" y="542.57">0.37</text>
<text class="a" x="489.24" y="542.57">0.45</text>
<text class="a" x="520.12" y="542.57">0.30</text>
<text class="a w" x="551.01" y="542.57">0.51</text>
<text class="a" x="581.90" y="542.57">0.27</text>
<text class="a" x="612.79" y="542.57">0.33</text>
<text class="a" x="643.68" y="542.57">0.22</text>
<text class="a w" x="674.57" y="542.57">1.00</text>
<text class="a" x="705.46" y="542.57">0.27</text>
<text class="a" x="736.35" y="542.57">0.27</text>
<text class="a w" x="767.24" y="542.57">0.56</text>
<text class="a" x="798.12" y="542.57">0.00</text>
<text class="a" x="829.01" y="542.57">0.00</text>
<text class="a" x="859.90" y="542.57">0.00</text>
<text class="a" x="890.79" y="542.57">0.01</text>
<text class="a" x="921.68" y="542.57">0.01</text>
<text class="a" x="952.57" y="542.57">0.00</text>
<text class="a" x="983.46" y="542.57">0.00</text>
<text class="a" x="1014.35" y="542.57">0.00</text>
<text class="a" x="118.57" y="571.46">0.13</text>
<text class="a" x="149.46" y="571.46">0.19</text>
<text class="a" x="180.35" y="571.46">0.28</text>
<text class="a" x="211.24" y="571.46">0.01</text>
<text class="a w" x="242.12" y="571.46">0.58</text>
<text class="a" x="273.01" y="571.46">0.19</text>
<text class="a" x="303.90" y="571.46">0.25</text>
<text class="a" x="334.79" y="571.46">0.26</text>
<text class="a" x="365.68" y="571.46">0.16</text>
<text class="a" x="396.57" y="571.46">0.10</text>
<text class="a w" x="427.46" y="571.46">0.59</text>
<text class="a" x="458.35" y="571.46">0.33</text>
<text class="a" x="489.24" y="571.46">0.46</text>
<text class="a" x="520.12" y="571.46">0.20</text>
<text class="a" x="551.01" y="571.46">0.00</text>
<text class="a" x="581.90" y="571.46">0.25</text>
<text class="a" x="612.79" y="571.46">0.36</text>
<text class="a" x="643.68" y="571.46">0.38</text>
<text class="a" x="674.57" y="571.46">0.27</text>
<text class="a w" x="705.46" y="571.46">1.00</text>
<text class="a" x="736.35" y="571.46">0.12</text>
<text class="a" x="767.24" y="571.46">0.34</text>
<text class="a" x="798.12" y="571.46">0.01</text>
<text class="a" x="829.01" y="571.46">0.00</text>
<text class="a" x="859.90" y="571.46">0.01</text>
<text class="a" x="890.79" y="571.46">0.11</text>
<text class="a" x="921.68" y="571.46">0.06</text>
<text class="a" x="952.57" y="571.46">0.10</text>
<text class="a" x="983.46" y="571.46">0.02</text>
<text class="a" x="1014.35" y="571.46">0.09</text>
<text class="a" x="118.57" y="600.35">0.03</text>
<text class="a" x="149.46" y="600.35">0.31</text>
<text class="a" x="180.35" y="600.35">0.41</text>
<text class="a w" x="211.24" y="600.35">0.54</text>
<text class="a" x="242.12" y="600.35">0.11</text>
<text class="a w" x="273.01" y="600.35">0.56</text>
<text class="a" x="303.90" y="600.35">0.08</text>
<text class="a" x="334.79" y="600.35">0.09</text>
<text class="a" x="365.68" y="600.35">0.16</text>
<text class="a" x="396.57" y="600.35">0.47</text>
<text class="a" x="427.46" y="600.35">0.07</text>
<text class="a" x="458.35" y="600.35">0.37</text>
<text class="a" x="489.24" y="600.35">0.35</text>
<text class="a" x="520.12" y="600.35">0.09</text>
<text class="a" x="551.01" y="600.35">0.06</text>
<text class="a w" x="581.90" y="600.35">0.59</text>
<text class="a" x="612.79" y="600.35">0.17</text>
<text class="a w" x="643.68" y="600.35">0.61</text>
<text class="a" x="674.57" y="600.35">0.27</text>
<text class="a" x="705.46" y="600.35">0.12</text>
<text class="a w" x="736.35" y="600.35">1.00</text>
<text class="a" x="767.24" y="600.35">0.12</text>
<text class="a" x="798.12" y="600.35">0.01</text>
<text class="a" x="829.01" y="600.35">0.02</text>
<text class="a" x="859.90" y="600.35">0.01</text>
<text class="a" x="890.79" y="600.35">0.18</text>
<text class="a" x="921.68" y="600.35">0.01</text>
<text class="a" x="952.57" y="600.35">0.12</text>
<text class="a" x="983.46" y="600.35">0.00</text>
<text class="a" x="1014.35" y="600.35">0.01</text>
<text class="a" x="118.57" y="629.23">0.17</text>
<text class="a" x="149.46" y="629.23">0.15</text>
<text class="a w" x="180.35" y="629.23">0.55</text>
<text class="a" x="211.24" y="629.23">0.27</text>
<text class="a" x="242.12" y="629.23">0.31</text>
<text class="a" x="273.01" y="629.23">0.21</text>
<text class="a w" x="303.90" y="629.23">0.68</text>
<text class="a" x="334.79" y="629.23">0.30</text>
<text class="a" x="365.68" y="629.23">0.34</text>
<text class="a" x="396.57" y="629.23">0.44</text>
<text class="a" x="427.46" y="629.23">0.16</text>
<text class="a" x="458.35" y="629.23">0.14</text>
<text class="a w" x="489.24" y="629.23">0.56</text>
<text class="a" x="520.12" y="629.23">0.14</text>
<text class="a w" x="551.01" y="629.23">0.56</text>
<text class="a" x="581.90" y="629.23">0.13</text>
<text class="a" x="612.79" y="629.23">0.27</text>
<text class="a" x="643.68" y="629.23">0.18</text>
<text class="a w" x="674.57" y="629.23">0.56</text>
<text class="a" x="705.46" y="629.23">0.34</text>
<text class="a" x="736.35" y="629.23">0.12</text>
<text class="a w" x="767.24" y="629.23">1.00</text>
<text class="a" x="798.12" y="629.23">0.02</text>
<text class="a" x="829.01" y="629.23">0.01</text>
<text class="a" x="859.90" y="629.23">0.02</text>
<text class="a" x="890.79" y="629.23">0.20</text>
<text class="a" x="921.68" y="629.23">0.09</text>
<text class="a" x="952.57" y="629.23">0.04</text>
<text class="a" x="983.46" y="629.23">0.03</text>
<text class="a" x="1014.35" y="629.23">0.12</text>
<text class="a" x="118.57" y="658.12">0.06</text>
<text class="a" x="149.46" y="658.12">0.00</text>
<text class="a" x="180.35" y="658.12">0.00</text>
<text class="a" x="211.24" y="658.12">0.00</text>
<text class="a" x="242.12" y="658.12">0.00</text>
<text class="a" x="273.01" y="658.12">0.00</text>
<text class="a" x="303.90" y="658.12">0.00</text>
<text class="a" x="334.79" y="658.12">0.00</text>
<text class="a" x="365.68" y="658.12">0.01</text>
<text class="a" x="396.57" y="658.12">0.00</text>
<text class="a" x="427.46" y="658.12">0.00</text>
<text class="a" x="458.35" y="658.12">0.00</text>
<text class="a" x="489.24" y="658.12">0.00</text>
<text class="a" x="520.12" y="658.12">0.01</text>
<text class="a" x="551.01" y="658.12">0.00</text>
<text class="a" x="581.90" y="658.12">0.00</text>
<text class="a" x="612.79" y="658.12">0.00</text>
<text class="a" x="643.68" y="658.12">0.00</text>
<text class="a" x="674.57" y="658.12">0.00</text>
<text class="a" x="705.46" y="658.12">0.01</text>
<text class="a" x="736.35" y="658.12">0.01</text>
<text class="a" x="767.24" y="658.12">0.02</text>
<text class="a w" x="798.12" y="658.12">1.00</text>
<text class="a w" x="829.01" y="658.12">0.98</text>
<text class="a w" x="859.90" y="658.12">0.89</text>
<text class="a" x="890.79" y="658.12">0.01</text>
<text class="a" x="921.68" y="658.12">0.05</text>
<text class="a" x="952.57" y="658.12">0.04</text>
<text class="a" x="983.46" y="658.12">0.24</text>
<text class="a" x="1014.35" y="658.12">0.04</text>
<text class="a" x="118.57" y="687.01">0.12</text>
<text class="a" x="149.46" y="687.01">0.00</text>
<text class="a" x="180.35" y="687.01">0.00</text>
<text class="a" x="211.24" y="687.01">0.00</text>
<text class="a" x="242.12" y="687.01">0.00</text>
<text class="a" x="273.01" y="687.01">0.00</text>
<text class="a" x="303.90" y="687.01">0.00</text>
<text class="a" x="334.79" y="687.01">0.00</text>
<text class="a" x="365.68" y="687.01">0.00</text>
<text class="a" x="396.57" y="687.01">0.00</text>
<text class="a" x="427.46" y="687.01">0.00</text>
<text class="a" x="458.35" y="687.01">0.00</text>
<text class="a" x="489.24" y="687.01">0.00</text>
<text class="a" x="520.12" y="687.01">0.00</text>
<text class="a" x="551.01" y="687.01">0.00</text>
<text class="a" x="581.90" y="687.01">0.00</text>
<text class="a" x="612.79" y="687.01">0.00</text>
<text class="a" x="643.68" y="687.01">0.00</text>
<text class="a" x="674.57" y="687.01">0.00</text>
<text class="a" x="705.46" y="687.01">0.00</text>
<text class="a" x="736.35" y="687.01">0.02</text>
<text class="a" x="767.24" y="687.01">0.01</text>
<text class="a w" x="798.12" y="687.01">0.98</text>
<text class="a w" x="829.01" y="687.01">1.00</text>
<text class="a w" x="859.90" y="687.01">0.89</text>
<text class="a" x="890.79" y="687.01">0.08</text>
<text class="a" x="921.68" y="687.01">0.11</text>
<text class="a" x="952.57" y="687.01">0.01</text>
<text class="a" x="983.46" y="687.01">0.33</text>
<text class="a" x="1014.35" y="687.01">0.12</text>
<text class="a" x="118.57" y="715.90">0.04</text>
<text class="a" x="149.46" y="715.90">0.00</text>
<text class="a" x="180.35" y="715.90">0.01</text>
<text class="a" x="211.24" y="715.90">0.01</text>
<text class="a" x="242.12" y="715.90">0.00</text>
<text class="a" x="273.01" y="715.90">0.00</text>
<text class="a" x="303.90" y="715.90">0.00</text>
<text class="a" x="334.79" y="715.90">0.01</text>
<text class="a" x="365.68" y="715.90">0.01</text>
<text class="a" x="396.57" y="715.90">0.00</text>
<text class="a" x="427.46" y="715.90">0.00</text>
<text class="a" x="458.35" y="715.90">0.01</text>
<text class="a" x="489.24" y="715.90">0.00</text>
<text class="a" x="520.12" y="715.90">0.01</text>
<text class="a" x="551.01" y="715.90">0.01</text>
<text class="a" x="581.90" y="715.90">0.01</text>
<text class="a" x="612.79" y="715.90">0.01</text>
<text class="a" x="643.68" y="715.90">0.00</text>
<text class="a" x="674.57" y="715.90">0.00</text>
<text class="a" x="705.46" y="715.90">0.01</text>
<text class="a" x="736.35" y="715.90">0.01</text>
<text class="a" x="767.24" y="715.90">0.02</text>
<text class="a w" x="798.12" y="715.90">0.89</text>
<text class="a w" x="829.01" y="715.90">0.89</text>
<text class="a w" x="859.90" y="715.90">1.00</text>
<text class="a" x="890.79" y="715.90">0.01</text>
<text class="a" x="921.68" y="715.90">0.04</text>
<text class="a" x="952.57" y="715.90">0.05</text>
<text class="a" x="983.46" y="715.90">0.05</text>
<text class="a" x="1014.35" y="715.90">0.01</text>
<text class="a" x="118.57" y="744.79">0.13</text>
<text class="a" x="149.46" y="744.79">0.11</text>
<text class="a" x="180.35" y="744.79">0.01</text>
<text class="a" x="211.24" y="744.79">0.08</text>
<text class="a" x="242.12" y="744.79">0.13</text>
<text class="a" x="273.01" y="744.79">0.01</text>
<text class="a" x="303.90" y="744.79">0.09</text>
<text class="a" x="334.79" y="744.79">0.14</text>
<text class="a" x="365.68" y="744.79">0.04</text>
<text class="a" x="396.57" y="744.79">0.11</text>
<text class="a" x="427.46" y="744.79">0.05</text>
<text class="a" x="458.35" y="744.79">0.03</text>
<text class="a" x="489.24" y="744.79">0.02</text>
<text class="a" x="520.12" y="744.79">0.13</text>
<text class="a" x="551.01" y="744.79">0.01</text>
<text class="a" x="581.90" y="744.79">0.14</text>
<text class="a" x="612.79" y="744.79">0.04</text>
<text class="a" x="643.68" y="744.79">0.01</text>
<text class="a" x="674.57" y="744.79">0.01</text>
<text class="a" x="705.46" y="744.79">0.11</text>
<text class="a" x="736.35" y="744.79">0.18</text>
<text class="a" x="767.24" y="744.79">0.20</text>
<text class="a" x="798.12" y="744.79">0.01</text>
<text class="a" x="829.01" y="744.79">0.08</text>
<text class="a" x="859.90" y="744.79">0.01</text>
<text class="a w" x="890.79" y="744.79">1.00</text>
<text class="a" x="921.68" y="744.79">0.01</text>
<text class="a w" x="952.57" y="744.79">0.69</text>
<text class="a" x="983.46" y="744.79">0.06</text>
<text class="a" x="1014.35" y="744.79">0.05</text>
<text class="a" x="118.57" y="773.68">0.43</text>
<text class="a" x="149.46" y="773.68">0.00</text>
<text class="a" x="180.35" y="773.68">0.00</text>
<text class="a" x="211.24" y="773.68">0.00</text>
<text class="a" x="242.12" y="773.68">0.01</text>
<text class="a" x="273.01" y="773.68">0.00</text>
<text class="a" x="303.90" y="773.68">0.01</text>
<text class="a" x="334.79" y="773.68">0.00</text>
<text class="a" x="365.68" y="773.68">0.00</text>
<text class="a" x="396.57" y="773.68">0.01</text>
<text class="a" x="427.46" y="773.68">0.01</text>
<text class="a" x="458.35" y="773.68">0.01</text>
<text class="a" x="489.24" y="773.68">0.00</text>
<text class="a" x="520.12" y="773.68">0.00</text>
<text class="a" x="551.01" y="773.68">0.01</text>
<text class="a" x="581.90" y="773.68">0.00</text>
<text class="a" x="612.79" y="773.68">0.01</text>
<text class="a" x="643.68" y="773.68">0.00</text>
<text class="a" x="674.57" y="773.68">0.01</text>
<text class="a" x="705.46" y="773.68">0.06</text>
<text class="a" x="736.35" y="773.68">0.01</text>
<text class="a" x="767.24" y="773.68">0.09</text>
<text class="a" x="798.12" y="773.68">0.05</text>
<text class="a" x="829.01" y="773.68">0.11</text>
<text class="a" x="859.90" y="773.68">0.04</text>
<text class="a" x="890.79" y="773.68">0.01</text>
<text class="a w" x="921.68" y="773.68">1.00</text>
<text class="a" x="952.57" y="773.68">0.34</text>
<text class="a" x="983.46" y="773.68">0.00</text>
<text class="a w" x="1014.35" y="773.68">0.77</text>
<text class="a" x="118.57" y="802.56">0.35</text>
<text class="a" x="149.46" y="802.56">0.00</text>
<text class="a" x="180.35" y="802.56">0.00</text>
<text class="a" x="211.24" y="802.56">0.00</text>
<text class="a" x="242.12" y="802.56">0.00</text>
<text class="a" x="273.01" y="802.56">0.00</text>
<text class="a" x="303.90" y="802.56">0.00</text>
<text class="a" x="334.79" y="802.56">0.00</text>
<text class="a" x="365.68" y="802.56">0.00</text>
<text class="a" x="396.57" y="802.56">0.00</text>
<text class="a" x="427.46" y="802.56">0.00</text>
<text class="a" x="458.35" y="802.56">0.00</text>
<text class="a" x="489.24" y="802.56">0.00</text>
<text class="a" x="520.12" y="802.56">0.00</text>
<text class="a" x="551.01" y="802.56">0.00</text>
<text class="a" x="581.90" y="802.56">0.00</text>
<text class="a" x="612.79" y="802.56">0.00</text>
<text class="a" x="643.68" y="802.56">0.00</text>
<text class="a" x="674.57" y="802.56">0.00</text>
<text class="a" x="705.46" y="802.56">0.10</text>
<text class="a" x="736.35" y="802.56">0.12</text>
<text class="a" x="767.24" y="802.56">0.04</text>
<text class="a" x="798.12" y="802.56">0.04</text>
<text class="a" x="829.01" y="802.56">0.01</text>
<text class="a" x="859.90" y="802.56">0.05</text>
<text class="a w" x="890.79" y="802.56">0.69</text>
<text class="a" x="921.68" y="802.56">0.34</text>
<text class="a w" x="952.57" y="802.56">1.00</text>
<text class="a" x="983.46" y="802.56">0.01</text>
<text class="a w" x="1014.35" y="802.56">0.50</text>
<text class="a" x="118.57" y="831.45">0.17</text>
<text class="a" x="149.46" y="831.45">0.00</text>
<text class="a" x="180.35" y="831.45">0.00</text>
<text class="a" x="211.24" y="831.45">0.00</text>
<text class="a" x="242.12" y="831.45">0.00</text>
<text class="a" x="273.01" y="831.45">0.00</text>
<text class="a" x="303.90" y="831.45">0.00</text>
<text class="a" x="334.79" y="831.45">0.00</text>
<text class="a" x="365.68" y="831.45">0.00</text>
<text class="a" x="396.57" y="831.45">0.00</text>
<text class="a" x="427.46" y="831.45">0.00</text>
<text class="a" x="458.35" y="831.45">0.00</text>
<text class="a" x="489.24" y="831.45">0.00</text>
<text class="a" x="520.12" y="831.45">0.00</text>
<text class="a" x="551.01" y="831.45">0.00</text>
<text class="a" x="581.90" y="831.45">0.00</text>
<text class="a" x="612.79" y="831.45">0.00</text>
<text class="a" x="643.68" y="831.45">0.00</text>
<text class="a" x="674.57" y="831.45">0.00</text>
<text class="a" x="705.46" y="831.45">0.02</text>
<text class="a" x="736.35" y="831.45">0.00</text>
<text class="a" x="767.24" y="831.45">0.03</text>
<text class="a" x="798.12" y="831.45">0.24</text>
<text class="a" x="829.01" y="831.45">0.33</text>
<text class="a" x="859.90" y="831.45">0.05</text>
<text class="a" x="890.79" y="831.45">0.06</text>
<text class="a" x="921.68" y="831.45">0.00</text>
<text class="a" x="952.57" y="831.45">0.01</text>
<text class="a w" x="983.46" y="831.45">1.00</text>
<text class="a" x="1014.35" y="831.45">0.00</text>
<text class="a w" x="118.57" y="860.34">0.48</text>
<text class="a" x="149.46" y="860.34">0.00</text>
<text class="a" x="180.35" y="860.34">0.00</text>
<text class="a" x="211.24" y="860.34">0.00</text>
<text class="a" x="242.12" y="860.34">0.00</text>
<text class="a" x="273.01" y="860.34">0.00</text>
<text class="a" x="303.90" y="860.34">0.00</text>
<text class="a" x="334.79" y="860.34">0.00</text>
<text class="a" x="365.68" y="860.34">0.00</text>
<text class="a" x="396.57" y="860.34">0.00</text>
<text class="a" x="427.46" y="860.34">0.00</text>
<text class="a" x="458.35" y="860.34">0.00</text>
<text class="a" x="489.24" y="860.34">0.00</text>
<text class="a" x="520.12" y="860.34">0.00</text>
<text class="a" x="551.01" y="860.34">0.00</text>
<text class="a" x="581.90" y="860.34">0.00</text>
<text class="a" x="612.79" y="860.34">0.00</text>
<text class="a" x="643.68" y="860.34">0.00</text>
<text class="a" x="674.57" y="860.34">0.00</text>
<text class="a" x="705.46" y="860.34">0.09</text>
<text class="a" x="736.35" y="860.34">0.01</text>
<text class="a" x="767.24" y="860.34">0.12</text>
<text class="a" x="798.12" y="860.34">0.04</text>
<text class="a" x="829.01" y="860.34">0.12</text>
<text class="a" x="859.90" y="860.34">0.01</text>
<text class="a" x="890.79" y="860.34">0.05</text>
<text class="a w" x="921.68" y="860.34">0.77</text>
<text class="a w" x="952.57" y="860.34">0.50</text>
<text class="a" x="983.46" y="860.34">0.00</text>
<text class="a w" x="1014.35" y="860.34">1.00</text>
</g>
<text class="y" x="88.6" y="22.08">energy</text>
<text class="y" x="88.6" y="50.96">q_distance_0</text>
<text class="y" x="88.6" y="79.85">q_distance_1</text>
<text class="y" x="88.6" y="108.74">q_distance_2</text>
<text class="y" x="88.6" y="137.63">tcp_distance_x</text>
<text class="y" x="88.6" y="166.52">tcp_distance_y</text>
<text class="y" x="88.6" y="195.41">tcp_distance_z</text>
<text class="y" x="88.6" y="224.29">tcp_actual_x</text>
<text class="y" x="88.6" y="253.18">tcp_actual_y</text>
<text class="y" x="88.6" y="282.07">tcp_actual_z</text>
<text class="y" x="88.6" y="310.96">tcp_target_x</text>
<text class="y" x="88.6" y="339.85">tcp_target_y</text>
<text class="y" x="88.6" y="368.74">tcp_target_z</text>
<text class="y" x="88.6" y="397.62">q_actual_0</text>
<text class="y" x="88.6" y="426.51">q_actual_1</text>
<text class="y" x="88.6" y="455.40">q_actual_2</text>
<text class="y" x="88.6" y="484.29">q_target_0</text>
<text class="y" x="88.6" y="513.18">q_target_1</text>
<text class="y" x="88.6" y="542.07">q_target_2</text>
<text class="y" x="88.6" y="570.95">TCP_force_0</text>
<text class="y" x="88.6" y="599.84">TCP_force_1</text>
<text class="y" x="88.6" y="628.73">TCP_force_2</text>
<text class="y" x="88.6" y="657.62">temperatures_0</text>
<text class="y" x="88.6" y="686.51">temperatures_1</text>
<text class="y" x="88.6" y="715.40">temperatures_2</text>
<text class="y" x="88.6" y="744.28">actual_force</text>
<text class="y" x="88.6" y="773.17">velocity</text>
<text class="y" x="88.6" y="802.06">acceleration</text>
<text class="y" x="88.6" y="830.95">actual_payload</text>
<text class="y" x="88.6" y="859.84">move_type</text>
<text class="x" transform="translate(115.74 882.3) rotate(-90)">energy</text>
<text class="x" transform="translate(146.32 882.3) rotate(-90)">q_distance_0</text>
<text class="x" transform="translate(175.98 882.3) rotate(-90)">q_distance_1</text>
<text class="x" transform="translate(205.63 882.3) rotate(-90)">q_distance_2</text>
<text class="x" transform="translate(235.28 882.3) rotate(-90)">tcp_distance_x</text>
<text class="x" transform="translate(264.94 882.3) rotate(-90)">tcp_distance_y</text>
<text class="x" transform="translate(294.59 882.3) rotate(-90)">tcp_distance_z</text>
<text class="x" transform="translate(324.24 882.3) rotate(-90)">tcp_actual_x</text>
<text class="x" transform="translate(353.90 882.3) rotate(-90)">tcp_actual_y</text>
<text class="x" transform="translate(383.55 882.3) rotate(-90)">tcp_actual_z</text>
<text class="x" transform="translate(412.89 882.3) rotate(-90)">tcp_target_x</text>
<text class="x" transform="translate(442.54 882.3) rotate(-90)">tcp_target_y</text>
<text class="x" transform="translate(472.19 882.3) rotate(-90)">tcp_target_z</text>
<text class="x" transform="translate(502.16 882.3) rotate(-90)">q_actual_0</text>
<text class="x" transform="translate(531.82 882.3) rotate(-90)">q_actual_1</text>
<text class="x" transform="translate(561.47 882.3) rotate(-90)">q_actual_2</text>
<text class="x" transform="translate(591.03 882.3) rotate(-90)">q_target_0</text>
<text class="x" transform="translate(620.61 882.3) rotate(-90)">q_target_1</text>
<text class="x" transform="translate(650.33 882.3) rotate(-90)">q_target_2</text>
<text class="x" transform="translate(680.08 882.3) rotate(-90)">TCP_force_0</text>
<text class="x" transform="translate(709.74 882.3) rotate(-90)">TCP_force_1</text>
<text class="x" transform="translate(739.39 882.3) rotate(-90)">TCP_force_2</text>
<text class="x" transform="translate(768.25 882.3) rotate(-90)">temperatures_0</text>
<text class="x" transform="translate(797.83 882.3) rotate(-90)">temperatures_1</text>
<text class="x" transform="translate(827.55 882.3) rotate(-90)">temperatures_2</text>
<text class="x" transform="translate(858.00 882.3) rotate(-90)">actual_force</text>
<text class="x" transform="translate(887.81 882.3) rotate(-90)">velocity</text>
<text class="x" transform="translate(918.51 882.3) rotate(-90)">acceleration</text>
<text class="x" transform="translate(946.96 882.3) rotate(-90)">actual_payload</text>
<text class="x" transform="translate(976.30 882.3) rotate(-90)">move_type</text>
<defs><linearGradient id="g" x1="0" y1="1" x2="0" y2="0">
<stop offset="0.00" stop-color="#f7fbff"/>
<stop offset="0.01" stop-color="#f5fafe"/>
<stop offset="0.02" stop-color="#f3f8fe"/>
<stop offset="0.03" stop-color="#f1f7fd"/>
<stop offset="0.04" stop-color="#eff6fd"/>
<stop offset="0.05" stop-color="#edf4fc"/>
<stop offset="0.06" stop-color="#ebf3fb"/>
<stop offset="0.07" stop-color="#e9f2fb"/>
<stop offset="0.08" stop-color="#e7f1fa"/>
<stop offset="0.09" stop-color="#e5effa"/>
<stop offset="0.10" stop-color="#e3eef9"/>
<stop offset="0.11" stop-color="#e1edf8"/>
<stop offset="0.12" stop-color="#dfebf8"/>
<stop offset="0.13" stop-color="#dceaf7"/>
<stop offset="0.14" stop-color="#dae9f6"/>
<stop offset="0.15" stop-color="#d8e8f6"/>
<stop offset="0.16" stop-color="#d6e6f5"/>
<stop offset="0.17" stop-color="#d4e5f4"/>
<stop offset="0.18" stop-color="#d1e4f3"/>
<stop offset="0.19" stop-color="#cfe2f3"/>
<stop offset="0.20" stop-color="#cde1f2"/>
<stop offset="0.21" stop-color="#cadff1"/>
<stop offset="0.22" stop-color="#c7def0"/>
<stop offset="0.23" stop-color="#c4dcf0"/>
<stop offset="0.24" stop-color="#c1daef"/>
<stop offset="0.25" stop-color="#bed9ee"/>
<stop offset="0.26" stop-color="#bbd7ed"/>
<stop offset="0.27" stop-color="#b7d6ec"/>
<stop offset="0.28" stop-color="#b3d4ec"/>
<stop offset="0.29" stop-color="#afd3eb"/>
<stop offset="0.30" stop-color="#abd2ea"/>
<stop offset="0.31" stop-color="#a7d1e9"/>
<stop offset="0.32" stop-color="#a4cfe9"/>
<stop offset="0.33" stop-color="#a0cee8"/>
<stop offset="0.34" stop-color="#9bcce7"/>
<stop offset="0.35" stop-color="#97cbe7"/>
<stop offset="0.36" stop-color="#92c9e6"/>
<stop offset="0.37" stop-color="#8ec7e5"/>
<stop offset="0.38" stop-color="#89c5e4"/>
<stop offset="0.39" stop-color="#85c4e4"/>
<stop offset="0.40" stop-color="#80c2e3"/>
<stop offset="0.41" stop-color="#7bc0e2"/>
<stop offset="0.42" stop-color="#75bee1"/>
<stop offset="0.43" stop-color="#70bde0"/>
<stop offset="0.44" stop-color="#6abbdf"/>
<stop offset="0.45" stop-color="#61b8de"/>
<stop offset="0.46" stop-color="#59b6dd"/>
<stop offset="0.47" stop-color="#50b3dc"/>
<stop offset="0.48" stop-color="#46b1db"/>
<stop offset="0.49" stop-color="#3cafda"/>
<stop offset="0.50" stop-color="#32add9"/>
<stop offset="0.51" stop-color="#27abd8"/>
<stop offset="0.52" stop-color="#1da9d7"/>
<stop offset="0.53" stop-color="#12a7d6"/>
<stop offset="0.54" stop-color="#09a6d5"/>
<stop offset="0.55" stop-color="#00a4d4"/>
<stop offset="0.56" stop-color="#00a1d3"/>
<stop offset="0.57" stop-color="#009ed2"/>
<stop offset="0.58" stop-color="#009cd0"/>
<stop offset="0.59" stop-color="#0099cf"/>
<stop offset="0.60" stop-color="#0096ce"/>
<stop offset="0.61" stop-color="#0093cd"/>
<stop offset="0.62" stop-color="#0091cc"/>
<stop offset="0.63" stop-color="#008eca"/>
<stop offset="0.64" stop-color="#008cc9"/>
<stop offset="0.65" stop-color="#0089c8"/>
<stop offset="0.66" stop-color="#0086c6"/>
<stop offset="0.67" stop-color="#0084c5"/>
<stop offset="0.68" stop-color="#0081c3"/>
<stop offset="0.69" stop-color="#007fc2"/>
<stop offset="0.70" stop-color="#007cc0"/>
<stop offset="0.71" stop-color="#007abe"/>
<stop offset="0.72" stop-color="#0077bd"/>
<stop offset="0.73" stop-color="#0075bb"/>
<stop offset="0.74" stop-color="#0072ba"/>
<stop offset="0.75" stop-color="#0070b8"/>
<stop offset="0.76" stop-color="#006eb6"/>
<stop offset="0.77" stop-color="#006bb5"/>
<stop offset="0.78" stop-color="#0069b3"/>
<stop offset="0.79" stop-color="#0066b2"/>
<stop offset="0.80" stop-color="#0064b0"/>
<stop offset="0.81" stop-color="#0061ad"/>
<stop offset="0.82" stop-color="#005eaa"/>
<stop offset="0.83" stop-color="#005aa7"/>
<stop offset="0.84" stop-color="#0057a4"/>
<stop offset="0.85" stop-color="#0054a1"/>
<stop offset="0.86" stop-color="#00519d"/>
<stop offset="0.87" stop-color="#004e9a"/>
<stop offset="0.88" stop-color="#004a97"/>
<stop offset="0.89" stop-color="#004794"/>
<stop offset="0.90" stop-color="#004491"/>
<stop offset="0.91" stop-color="#00428e"/>
<stop offset="0.92" stop-color="#003f8a"/>
<stop offset="0.93" stop-color="#003d86"/>
<stop offset="0.94" stop-color="#003a83"/>
<stop offset="0.95" stop-color="#003880"/>
<stop offset="0.96" stop-color="#00367c"/>
<stop offset="0.97" stop-color="#003379"/>
<stop offset="0.98" stop-color="#003175"/>
<stop offset="0.99" stop-color="#002e72"/>
<stop offset="1.00" stop-color="#002c6e"/>
</linearGradient></defs>
<rect x="1006.2" y="5.0" width="22.399999999999864" height="866.4" fill="url(#g)"/>
<path d="M1028.6 699.18h2.6" stroke="#262626" stroke-width="1"/>
<text class="c" transform="translate(1034.3 702.62) scale(0.94 1)">0.2</text>
<path d="M1028.6 525.86h2.6" stroke="#262626" stroke-width="1"/>
<text class="c" transform="translate(1034.3 529.30) scale(0.94 1)">0.4</text>
<path d="M1028.6 352.54h2.6" stroke="#262626" stroke-width="1"/>
<text class="c" transform="translate(1034.3 355.98) scale(0.94 1)">0.6</text>
<path d="M1028.6 179.22h2.6" stroke="#262626" stroke-width="1"/>
<text class="c" transform="translate(1034.3 182.66) scale(0.94 1)">0.8</text>
<path d="M1028.6 5.90h2.6" stroke="#262626" stroke-width="1"/>
<text class="c" transform="translate(1034.3 9.34) scale(0.94 1)">1.0</text>
</svg></body></html>
